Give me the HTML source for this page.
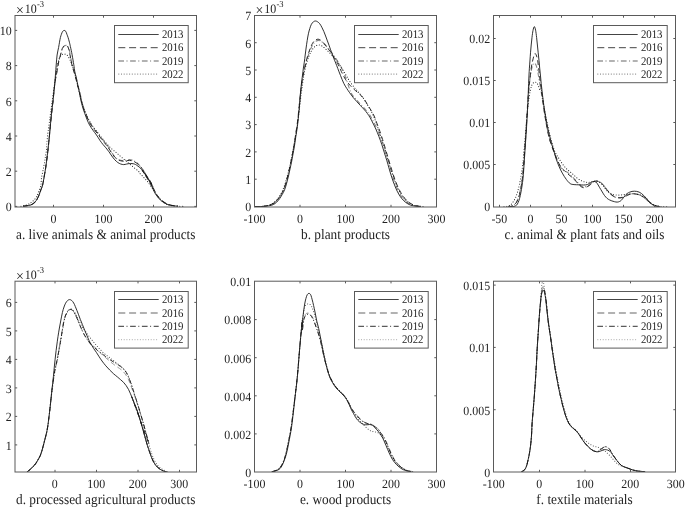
<!DOCTYPE html><html><head><meta charset="utf-8"><style>html,body{margin:0;padding:0;background:#fff}svg{display:block;will-change:transform}text{font-family:"Liberation Serif", serif;fill:#222;text-rendering:geometricPrecision}</style></head><body>
<svg width="685" height="507" viewBox="0 0 685 507">
<rect width="685" height="507" fill="#fff"/>
<clipPath id="cpa"><rect x="15.0" y="15.5" width="181.5" height="191.5"/></clipPath>
<g clip-path="url(#cpa)" fill="none">
<path d="M23.00,206.35 C23.47,206.28 24.53,206.12 25.80,205.90 C27.07,205.68 29.25,205.47 30.60,205.00 C31.95,204.53 32.92,203.90 33.90,203.10 C34.88,202.30 35.68,201.47 36.50,200.20 C37.32,198.93 38.08,197.20 38.80,195.50 C39.52,193.80 40.17,191.75 40.80,190.00 C41.43,188.25 42.02,187.33 42.60,185.00 C43.18,182.67 43.78,178.90 44.30,176.00 C44.82,173.10 45.25,170.60 45.70,167.60 C46.15,164.60 46.60,161.15 47.00,158.00 C47.40,154.85 47.70,152.37 48.10,148.70 C48.50,145.03 49.02,139.95 49.40,136.00 C49.78,132.05 50.07,128.50 50.40,125.00 C50.73,121.50 51.07,118.17 51.40,115.00 C51.73,111.83 52.10,108.57 52.40,106.00 C52.70,103.43 52.92,102.27 53.20,99.60 C53.48,96.93 53.73,93.27 54.10,90.00 C54.47,86.73 55.00,82.67 55.40,80.00 C55.80,77.33 56.13,76.00 56.50,74.00 C56.87,72.00 57.25,69.92 57.60,68.00 C57.95,66.08 58.10,64.63 58.60,62.50 C59.10,60.37 60.13,56.95 60.60,55.20 C61.07,53.45 61.12,53.03 61.40,52.00 C61.68,50.97 62.00,49.83 62.30,49.00 C62.60,48.17 62.82,47.55 63.20,47.00 C63.58,46.45 64.12,45.98 64.60,45.70 C65.08,45.42 65.62,45.27 66.10,45.30 C66.58,45.33 67.08,45.53 67.50,45.90 C67.92,46.27 68.28,46.78 68.60,47.50 C68.92,48.22 69.17,49.25 69.40,50.20 C69.63,51.15 69.78,52.12 70.00,53.20 C70.22,54.28 70.47,55.45 70.70,56.70 C70.93,57.95 71.15,59.40 71.40,60.70 C71.65,62.00 71.90,63.25 72.20,64.50 C72.50,65.75 72.87,67.03 73.20,68.20 C73.53,69.37 73.82,70.25 74.20,71.50 C74.58,72.75 75.05,74.08 75.50,75.70 C75.95,77.32 76.43,79.37 76.90,81.20 C77.37,83.03 77.78,84.73 78.30,86.70 C78.82,88.67 79.45,90.70 80.00,93.00 C80.55,95.30 81.00,98.08 81.60,100.50 C82.20,102.92 82.90,105.33 83.60,107.50 C84.30,109.67 85.03,111.58 85.80,113.50 C86.57,115.42 87.37,117.25 88.20,119.00 C89.03,120.75 89.80,122.37 90.80,124.00 C91.80,125.63 93.05,127.27 94.20,128.80 C95.35,130.33 96.53,131.67 97.70,133.20 C98.87,134.73 100.07,136.53 101.20,138.00 C102.33,139.47 103.37,140.58 104.50,142.00 C105.63,143.42 106.78,144.73 108.00,146.50 C109.22,148.27 110.67,150.88 111.80,152.60 C112.93,154.32 113.80,155.70 114.80,156.80 C115.80,157.90 116.82,158.62 117.80,159.20 C118.78,159.78 119.72,160.07 120.70,160.30 C121.68,160.53 122.72,160.65 123.70,160.60 C124.68,160.55 125.62,160.17 126.60,160.00 C127.58,159.83 128.70,159.60 129.60,159.60 C130.50,159.60 131.22,159.77 132.00,160.00 C132.78,160.23 133.50,160.53 134.30,161.00 C135.10,161.47 136.02,162.17 136.80,162.80 C137.58,163.43 138.30,164.07 139.00,164.80 C139.70,165.53 140.37,166.40 141.00,167.20 C141.63,168.00 142.13,168.63 142.80,169.60 C143.47,170.57 144.25,171.77 145.00,173.00 C145.75,174.23 146.45,175.58 147.30,177.00 C148.15,178.42 149.23,179.90 150.10,181.50 C150.97,183.10 153.75,188.38 152.50,186.60 C151.25,184.82 143.85,172.90 142.60,170.80 C141.35,168.70 144.22,172.92 145.00,174.00 C145.78,175.08 146.45,176.02 147.30,177.30 C148.15,178.58 149.23,180.12 150.10,181.70 C150.97,183.28 151.73,185.17 152.50,186.80 C153.27,188.43 153.95,190.07 154.70,191.50 C155.45,192.93 156.02,194.03 157.00,195.40 C157.98,196.77 159.35,198.50 160.60,199.70 C161.85,200.90 163.18,201.78 164.50,202.60 C165.82,203.42 167.00,204.08 168.50,204.60 C170.00,205.12 171.93,205.43 173.50,205.70 C175.07,205.97 177.17,206.12 177.90,206.20" stroke="#888" stroke-width="1.1" stroke-dasharray="4.5 2 1 2"/>
<path d="M21.00,206.35 C21.37,206.26 22.17,206.06 23.20,205.80 C24.23,205.54 26.03,205.23 27.20,204.80 C28.37,204.37 29.23,203.83 30.20,203.20 C31.17,202.57 32.02,201.95 33.00,201.00 C33.98,200.05 35.20,198.92 36.10,197.50 C37.00,196.08 37.62,194.50 38.40,192.50 C39.18,190.50 40.28,187.92 40.80,185.50 C41.32,183.08 41.08,180.75 41.50,178.00 C41.92,175.25 42.73,172.00 43.30,169.00 C43.87,166.00 44.38,163.17 44.90,160.00 C45.42,156.83 46.02,153.50 46.40,150.00 C46.78,146.50 46.83,142.67 47.20,139.00 C47.57,135.33 48.15,131.50 48.60,128.00 C49.05,124.50 49.48,121.17 49.90,118.00 C50.32,114.83 50.70,112.00 51.10,109.00 C51.50,106.00 51.92,102.83 52.30,100.00 C52.68,97.17 53.03,94.67 53.40,92.00 C53.77,89.33 54.13,86.67 54.50,84.00 C54.87,81.33 55.23,78.50 55.60,76.00 C55.97,73.50 56.33,71.08 56.70,69.00 C57.07,66.92 57.42,65.17 57.80,63.50 C58.18,61.83 58.58,60.20 59.00,59.00 C59.42,57.80 59.80,57.03 60.30,56.30 C60.80,55.57 61.37,54.98 62.00,54.60 C62.63,54.22 63.40,54.00 64.10,54.00 C64.80,54.00 65.53,54.22 66.20,54.60 C66.87,54.98 67.45,55.38 68.10,56.30 C68.75,57.22 69.48,58.73 70.10,60.10 C70.72,61.47 71.22,62.93 71.80,64.50 C72.38,66.07 73.00,67.58 73.60,69.50 C74.20,71.42 74.78,73.58 75.40,76.00 C76.02,78.42 76.67,81.33 77.30,84.00 C77.93,86.67 78.55,89.33 79.20,92.00 C79.85,94.67 80.50,97.47 81.20,100.00 C81.90,102.53 82.60,104.90 83.40,107.20 C84.20,109.50 85.07,111.67 86.00,113.80 C86.93,115.93 87.92,118.00 89.00,120.00 C90.08,122.00 91.25,123.97 92.50,125.80 C93.75,127.63 95.05,129.12 96.50,131.00 C97.95,132.88 99.92,135.47 101.20,137.10 C102.48,138.73 103.22,139.62 104.20,140.80 C105.18,141.98 105.92,142.92 107.10,144.20 C108.28,145.48 109.80,147.12 111.30,148.50 C112.80,149.88 114.62,151.23 116.10,152.50 C117.58,153.77 118.82,154.92 120.20,156.10 C121.58,157.28 123.10,158.50 124.40,159.60 C125.70,160.70 126.82,161.72 128.00,162.70 C129.18,163.68 130.32,164.53 131.50,165.50 C132.68,166.47 133.92,167.52 135.10,168.50 C136.28,169.48 137.92,170.72 138.60,171.40 C139.28,172.08 138.82,172.08 139.20,172.60 C139.58,173.12 140.32,173.88 140.90,174.50 C141.48,175.12 142.10,175.67 142.70,176.30 C143.30,176.93 143.90,177.65 144.50,178.30 C145.10,178.95 145.67,179.48 146.30,180.20 C146.93,180.92 147.60,181.68 148.30,182.60 C149.00,183.52 149.70,184.57 150.50,185.70 C151.30,186.83 152.27,188.15 153.10,189.40 C153.93,190.65 154.72,192.05 155.50,193.20 C156.28,194.35 156.97,195.23 157.80,196.30 C158.63,197.37 159.55,198.60 160.50,199.60 C161.45,200.60 162.42,201.50 163.50,202.30 C164.58,203.10 165.67,203.85 167.00,204.40 C168.33,204.95 169.72,205.31 171.50,205.60 C173.28,205.89 175.62,206.02 177.70,206.15 C179.78,206.28 182.95,206.36 184.00,206.40" stroke="#222" stroke-width="1.05" stroke-dasharray="0.1 2.6" stroke-linecap="round"/>
<path d="M23.00,206.35 C23.47,206.28 24.53,206.12 25.80,205.90 C27.07,205.68 29.25,205.47 30.60,205.00 C31.95,204.53 32.92,203.90 33.90,203.10 C34.88,202.30 35.68,201.47 36.50,200.20 C37.32,198.93 38.08,197.20 38.80,195.50 C39.52,193.80 40.17,191.75 40.80,190.00 C41.43,188.25 42.02,187.33 42.60,185.00 C43.18,182.67 43.78,178.90 44.30,176.00 C44.82,173.10 45.25,170.60 45.70,167.60 C46.15,164.60 46.60,161.15 47.00,158.00 C47.40,154.85 47.70,152.37 48.10,148.70 C48.50,145.03 49.02,139.95 49.40,136.00 C49.78,132.05 50.07,128.50 50.40,125.00 C50.73,121.50 51.07,118.17 51.40,115.00 C51.73,111.83 52.10,108.57 52.40,106.00 C52.70,103.43 52.92,102.27 53.20,99.60 C53.48,96.93 53.73,93.27 54.10,90.00 C54.47,86.73 55.00,82.67 55.40,80.00 C55.80,77.33 56.13,76.00 56.50,74.00 C56.87,72.00 57.25,70.00 57.60,68.00 C57.95,66.00 58.15,64.08 58.60,62.00 C59.05,59.92 59.88,57.12 60.30,55.50 C60.72,53.88 60.82,53.33 61.10,52.30 C61.38,51.27 61.70,50.13 62.00,49.30 C62.30,48.47 62.52,47.85 62.90,47.30 C63.28,46.75 63.82,46.28 64.30,46.00 C64.78,45.72 65.32,45.57 65.80,45.60 C66.28,45.63 66.78,45.83 67.20,46.20 C67.62,46.57 67.98,47.08 68.30,47.80 C68.62,48.52 68.87,49.55 69.10,50.50 C69.33,51.45 69.48,52.42 69.70,53.50 C69.92,54.58 70.17,55.75 70.40,57.00 C70.63,58.25 70.85,59.70 71.10,61.00 C71.35,62.30 71.60,63.55 71.90,64.80 C72.20,66.05 72.57,67.33 72.90,68.50 C73.23,69.67 73.52,70.55 73.90,71.80 C74.28,73.05 74.75,74.38 75.20,76.00 C75.65,77.62 76.13,79.67 76.60,81.50 C77.07,83.33 77.47,85.08 78.00,87.00 C78.53,88.92 79.23,90.75 79.80,93.00 C80.37,95.25 80.80,98.00 81.40,100.50 C82.00,103.00 82.70,105.75 83.40,108.00 C84.10,110.25 84.83,112.08 85.60,114.00 C86.37,115.92 87.17,117.75 88.00,119.50 C88.83,121.25 89.60,122.87 90.60,124.50 C91.60,126.13 92.85,127.77 94.00,129.30 C95.15,130.83 96.33,132.17 97.50,133.70 C98.67,135.23 99.87,137.03 101.00,138.50 C102.13,139.97 103.17,141.08 104.30,142.50 C105.43,143.92 106.55,145.22 107.80,147.00 C109.05,148.78 110.63,151.50 111.80,153.20 C112.97,154.90 113.80,156.13 114.80,157.20 C115.80,158.27 116.82,159.00 117.80,159.60 C118.78,160.20 119.72,160.53 120.70,160.80 C121.68,161.07 122.72,161.22 123.70,161.20 C124.68,161.18 125.62,160.83 126.60,160.70 C127.58,160.57 128.70,160.38 129.60,160.40 C130.50,160.42 131.22,160.58 132.00,160.80 C132.78,161.02 133.50,161.30 134.30,161.70 C135.10,162.10 136.02,162.65 136.80,163.20 C137.58,163.75 138.30,164.33 139.00,165.00 C139.70,165.67 140.37,166.43 141.00,167.20 C141.63,167.97 142.13,168.63 142.80,169.60 C143.47,170.57 144.25,171.77 145.00,173.00 C145.75,174.23 146.40,175.58 147.30,177.00 C148.20,178.42 149.48,179.90 150.40,181.50 C151.32,183.10 154.10,188.38 152.80,186.60 C151.50,184.82 143.90,172.90 142.60,170.80 C141.30,168.70 144.22,172.92 145.00,174.00 C145.78,175.08 146.40,176.02 147.30,177.30 C148.20,178.58 149.48,180.12 150.40,181.70 C151.32,183.28 152.03,185.17 152.80,186.80 C153.57,188.43 154.25,190.07 155.00,191.50 C155.75,192.93 156.32,194.03 157.30,195.40 C158.28,196.77 159.65,198.50 160.90,199.70 C162.15,200.90 163.48,201.78 164.80,202.60 C166.12,203.42 167.30,204.08 168.80,204.60 C170.30,205.12 172.28,205.43 173.80,205.70 C175.32,205.97 177.22,206.12 177.90,206.20" stroke="#1a1a1a" stroke-width="0.9" stroke-dasharray="5 3"/>
<path d="M23.00,206.35 C23.47,206.28 24.53,206.12 25.80,205.90 C27.07,205.68 29.25,205.47 30.60,205.00 C31.95,204.53 32.92,203.90 33.90,203.10 C34.88,202.30 35.68,201.47 36.50,200.20 C37.32,198.93 38.08,197.20 38.80,195.50 C39.52,193.80 40.17,191.75 40.80,190.00 C41.43,188.25 42.02,187.33 42.60,185.00 C43.18,182.67 43.78,178.90 44.30,176.00 C44.82,173.10 45.25,170.60 45.70,167.60 C46.15,164.60 46.60,161.15 47.00,158.00 C47.40,154.85 47.70,152.37 48.10,148.70 C48.50,145.03 49.02,139.95 49.40,136.00 C49.78,132.05 50.07,128.50 50.40,125.00 C50.73,121.50 51.07,118.17 51.40,115.00 C51.73,111.83 52.10,108.57 52.40,106.00 C52.70,103.43 52.92,102.27 53.20,99.60 C53.48,96.93 53.82,92.97 54.10,90.00 C54.38,87.03 54.67,84.47 54.90,81.80 C55.13,79.13 55.28,76.80 55.50,74.00 C55.72,71.20 55.93,68.17 56.20,65.00 C56.47,61.83 56.70,57.92 57.10,55.00 C57.50,52.08 58.20,49.63 58.60,47.50 C59.00,45.37 59.20,43.87 59.50,42.20 C59.80,40.53 60.08,38.82 60.40,37.50 C60.72,36.18 61.03,35.30 61.40,34.30 C61.77,33.30 62.13,32.15 62.60,31.50 C63.07,30.85 63.67,30.42 64.20,30.40 C64.73,30.38 65.35,30.75 65.80,31.40 C66.25,32.05 66.52,33.28 66.90,34.30 C67.28,35.32 67.68,36.18 68.10,37.50 C68.52,38.82 69.02,40.70 69.40,42.20 C69.78,43.70 69.95,44.40 70.40,46.50 C70.85,48.60 71.53,51.75 72.10,54.80 C72.67,57.85 73.35,62.00 73.80,64.80 C74.25,67.60 74.38,69.48 74.80,71.60 C75.22,73.72 75.87,75.60 76.30,77.50 C76.73,79.40 76.90,80.58 77.40,83.00 C77.90,85.42 78.75,89.27 79.30,92.00 C79.85,94.73 80.15,96.90 80.70,99.40 C81.25,101.90 81.93,104.68 82.60,107.00 C83.27,109.32 83.97,111.22 84.70,113.30 C85.43,115.38 86.18,117.53 87.00,119.50 C87.82,121.47 88.60,123.30 89.60,125.10 C90.60,126.90 91.85,128.65 93.00,130.30 C94.15,131.95 95.33,133.30 96.50,135.00 C97.67,136.70 98.92,138.92 100.00,140.50 C101.08,142.08 102.02,143.28 103.00,144.50 C103.98,145.72 104.90,146.58 105.90,147.80 C106.90,149.02 108.02,150.43 109.00,151.80 C109.98,153.17 110.83,154.67 111.80,156.00 C112.77,157.33 113.80,158.72 114.80,159.80 C115.80,160.88 116.82,161.80 117.80,162.50 C118.78,163.20 119.72,163.65 120.70,164.00 C121.68,164.35 122.75,164.58 123.70,164.60 C124.65,164.62 125.62,164.25 126.40,164.10 C127.18,163.95 127.67,163.80 128.40,163.70 C129.13,163.60 130.02,163.50 130.80,163.50 C131.58,163.50 132.32,163.53 133.10,163.70 C133.88,163.87 134.70,164.10 135.50,164.50 C136.30,164.90 137.10,165.52 137.90,166.10 C138.70,166.68 139.52,167.22 140.30,168.00 C141.08,168.78 141.82,169.80 142.60,170.80 C143.38,171.80 144.22,172.92 145.00,174.00 C145.78,175.08 146.53,176.02 147.30,177.30 C148.07,178.58 148.82,180.12 149.60,181.70 C150.38,183.28 151.23,185.17 152.00,186.80 C152.77,188.43 153.45,190.07 154.20,191.50 C154.95,192.93 155.52,194.03 156.50,195.40 C157.48,196.77 158.85,198.50 160.10,199.70 C161.35,200.90 162.68,201.78 164.00,202.60 C165.32,203.42 166.50,204.08 168.00,204.60 C169.50,205.12 171.35,205.43 173.00,205.70 C174.65,205.97 177.08,206.12 177.90,206.20" stroke="#1a1a1a" stroke-width="0.9"/>
</g>
<rect x="15.0" y="15.5" width="181.5" height="191.5" fill="none" stroke="#5a5a5a" stroke-width="1"/>
<path d="M53.5,207.0v-2.2M53.5,15.5v2.2M103.5,207.0v-2.2M103.5,15.5v2.2M153.5,207.0v-2.2M153.5,15.5v2.2M15.0,206.4h2.2M196.5,206.4h-2.2M15.0,171.2h2.2M196.5,171.2h-2.2M15.0,136.0h2.2M196.5,136.0h-2.2M15.0,100.8h2.2M196.5,100.8h-2.2M15.0,65.6h2.2M196.5,65.6h-2.2M15.0,30.4h2.2M196.5,30.4h-2.2" stroke="#5a5a5a" stroke-width="1" fill="none"/>
<text transform="translate(53.50,222.50) scale(1,1.055)" font-size="11.95" text-anchor="middle">0</text>
<text transform="translate(103.50,222.50) scale(1,1.055)" font-size="11.95" text-anchor="middle">100</text>
<text transform="translate(153.50,222.50) scale(1,1.055)" font-size="11.95" text-anchor="middle">200</text>
<text transform="translate(11.60,211.20) scale(1,1.055)" font-size="11.95" text-anchor="end">0</text>
<text transform="translate(11.60,176.00) scale(1,1.055)" font-size="11.95" text-anchor="end">2</text>
<text transform="translate(11.60,140.80) scale(1,1.055)" font-size="11.95" text-anchor="end">4</text>
<text transform="translate(11.60,105.60) scale(1,1.055)" font-size="11.95" text-anchor="end">6</text>
<text transform="translate(11.60,70.40) scale(1,1.055)" font-size="11.95" text-anchor="end">8</text>
<text transform="translate(11.60,35.20) scale(1,1.055)" font-size="11.95" text-anchor="end">10</text>
<text transform="translate(16.00,14.85) scale(1,1.08)" font-size="14">&#215;</text>
<text transform="translate(24.80,13.10) scale(1,1.08)" font-size="11.95">10</text>
<text transform="translate(37.00,6.90) scale(1,1.08)" font-size="8.5">-3</text>
<text transform="translate(105.75,238.60) scale(1,1.08)" font-size="13.3" text-anchor="middle">a. live animals & animal products</text>
<rect x="114.5" y="25.5" width="73.7" height="57.2" fill="#fff" stroke="#5a5a5a" stroke-width="1"/>
<path d="M118.3,34.5H158.7" stroke="#444" stroke-width="1.0"/>
<text transform="translate(161.90,38.20) scale(1,1.08)" font-size="10.8">2013</text>
<path d="M118.3,47.7H158.7" stroke="#444" stroke-width="1.0" stroke-dasharray="7 3.8"/>
<text transform="translate(161.90,51.40) scale(1,1.08)" font-size="10.8">2016</text>
<path d="M118.3,60.9H158.7" stroke="#999" stroke-width="1.5" stroke-dasharray="5.7 2.5 1 2.6"/>
<text transform="translate(161.90,64.60) scale(1,1.08)" font-size="10.8">2019</text>
<path d="M118.3,74.1H158.7" stroke="#777" stroke-width="1.0" stroke-dasharray="1 1.7"/>
<text transform="translate(161.90,77.80) scale(1,1.08)" font-size="10.8">2022</text>
<clipPath id="cpb"><rect x="254.5" y="15.5" width="182.0" height="191.5"/></clipPath>
<g clip-path="url(#cpb)" fill="none">
<path d="M254.00,206.60 C255.17,206.58 259.17,206.58 261.00,206.50 C262.83,206.42 263.67,206.32 265.00,206.10 C266.33,205.88 267.70,205.58 269.00,205.20 C270.30,204.82 271.63,204.43 272.80,203.80 C273.97,203.17 274.97,202.40 276.00,201.40 C277.03,200.40 278.05,199.12 279.00,197.80 C279.95,196.48 280.85,195.05 281.70,193.50 C282.55,191.95 283.35,190.42 284.10,188.50 C284.85,186.58 285.55,184.25 286.20,182.00 C286.85,179.75 287.43,177.33 288.00,175.00 C288.57,172.67 289.08,170.33 289.60,168.00 C290.12,165.67 290.60,163.50 291.10,161.00 C291.60,158.50 292.12,155.60 292.60,153.00 C293.08,150.40 293.52,148.32 294.00,145.40 C294.48,142.48 295.00,138.73 295.50,135.50 C296.00,132.27 296.57,129.08 297.00,126.00 C297.43,122.92 297.75,120.17 298.10,117.00 C298.45,113.83 298.75,110.50 299.10,107.00 C299.45,103.50 299.82,99.50 300.20,96.00 C300.58,92.50 301.00,89.00 301.40,86.00 C301.80,83.00 302.20,80.33 302.60,78.00 C303.00,75.67 303.40,73.83 303.80,72.00 C304.20,70.17 304.58,68.67 305.00,67.00 C305.42,65.33 305.87,63.58 306.30,62.00 C306.73,60.42 307.15,58.97 307.60,57.50 C308.05,56.03 308.50,54.58 309.00,53.20 C309.50,51.82 310.05,50.47 310.60,49.20 C311.15,47.93 311.70,46.67 312.30,45.60 C312.90,44.53 313.53,43.57 314.20,42.80 C314.87,42.03 315.58,41.40 316.30,41.00 C317.02,40.60 317.80,40.42 318.50,40.40 C319.20,40.38 319.87,40.62 320.50,40.90 C321.13,41.18 321.67,41.58 322.30,42.10 C322.93,42.62 323.62,43.30 324.30,44.00 C324.98,44.70 325.65,45.43 326.40,46.30 C327.15,47.17 328.00,48.25 328.80,49.20 C329.60,50.15 330.40,51.00 331.20,52.00 C332.00,53.00 332.73,54.00 333.60,55.20 C334.47,56.40 335.47,57.77 336.40,59.20 C337.33,60.63 338.23,62.10 339.20,63.80 C340.17,65.50 341.18,67.23 342.20,69.40 C343.22,71.57 343.83,72.90 345.30,76.80 C346.77,80.70 349.47,89.35 351.00,92.80 C352.53,96.25 353.32,96.03 354.50,97.50 C355.68,98.97 356.88,100.25 358.10,101.60 C359.32,102.95 360.50,104.20 361.80,105.60 C363.10,107.00 364.75,108.68 365.90,110.00 C367.05,111.32 367.80,112.25 368.70,113.50 C369.60,114.75 370.38,115.92 371.30,117.50 C372.22,119.08 373.22,121.05 374.20,123.00 C375.18,124.95 376.20,126.95 377.20,129.20 C378.20,131.45 379.20,133.90 380.20,136.50 C381.20,139.10 382.28,142.08 383.20,144.80 C384.12,147.52 384.87,150.13 385.70,152.80 C386.53,155.47 387.45,158.30 388.20,160.80 C388.95,163.30 389.53,165.48 390.20,167.80 C390.87,170.12 391.47,172.37 392.20,174.70 C392.93,177.03 393.78,179.55 394.60,181.80 C395.42,184.05 396.20,186.17 397.10,188.20 C398.00,190.23 399.05,192.27 400.00,194.00 C400.95,195.73 401.70,197.22 402.80,198.60 C403.90,199.98 405.27,201.27 406.60,202.30 C407.93,203.33 409.32,204.18 410.80,204.80 C412.28,205.42 413.85,205.72 415.50,206.00 C417.15,206.28 419.83,206.42 420.70,206.50" stroke="#888" stroke-width="1.1" stroke-dasharray="4.5 2 1 2"/>
<path d="M254.00,206.60 C255.33,206.57 260.00,206.53 262.00,206.40 C264.00,206.27 264.67,206.08 266.00,205.80 C267.33,205.52 268.75,205.20 270.00,204.70 C271.25,204.20 272.33,203.65 273.50,202.80 C274.67,201.95 275.92,200.83 277.00,199.60 C278.08,198.37 279.07,196.92 280.00,195.40 C280.93,193.88 281.77,192.40 282.60,190.50 C283.43,188.60 284.27,186.25 285.00,184.00 C285.73,181.75 286.33,179.42 287.00,177.00 C287.67,174.58 288.37,172.08 289.00,169.50 C289.63,166.92 290.20,164.25 290.80,161.50 C291.40,158.75 292.02,155.92 292.60,153.00 C293.18,150.08 293.73,147.17 294.30,144.00 C294.87,140.83 295.47,137.33 296.00,134.00 C296.53,130.67 297.03,127.33 297.50,124.00 C297.97,120.67 298.38,117.33 298.80,114.00 C299.22,110.67 299.60,107.33 300.00,104.00 C300.40,100.67 300.80,97.17 301.20,94.00 C301.60,90.83 302.00,87.83 302.40,85.00 C302.80,82.17 303.17,79.58 303.60,77.00 C304.03,74.42 304.47,71.92 305.00,69.50 C305.53,67.08 306.13,64.75 306.80,62.50 C307.47,60.25 308.23,57.92 309.00,56.00 C309.77,54.08 310.60,52.40 311.40,51.00 C312.20,49.60 313.02,48.48 313.80,47.60 C314.58,46.72 315.32,46.13 316.10,45.70 C316.88,45.27 317.68,45.03 318.50,45.00 C319.32,44.97 320.20,45.18 321.00,45.50 C321.80,45.82 322.43,46.23 323.30,46.90 C324.17,47.57 325.22,48.58 326.20,49.50 C327.18,50.42 328.30,51.52 329.20,52.40 C330.10,53.28 330.82,54.02 331.60,54.80 C332.38,55.58 333.08,56.20 333.90,57.10 C334.72,58.00 335.65,59.08 336.50,60.20 C337.35,61.32 338.08,62.42 339.00,63.80 C339.92,65.18 341.02,66.93 342.00,68.50 C342.98,70.07 344.02,71.72 344.90,73.20 C345.78,74.68 346.50,76.05 347.30,77.40 C348.10,78.75 348.60,79.70 349.70,81.30 C350.80,82.90 352.58,85.35 353.90,87.00 C355.22,88.65 356.33,89.73 357.60,91.20 C358.87,92.67 360.27,94.20 361.50,95.80 C362.73,97.40 363.83,99.00 365.00,100.80 C366.17,102.60 367.28,104.50 368.50,106.60 C369.72,108.70 371.13,111.03 372.30,113.40 C373.47,115.77 374.48,118.20 375.50,120.80 C376.52,123.40 377.45,126.22 378.40,129.00 C379.35,131.78 380.28,134.67 381.20,137.50 C382.12,140.33 383.02,143.17 383.90,146.00 C384.78,148.83 385.65,151.67 386.50,154.50 C387.35,157.33 388.17,160.25 389.00,163.00 C389.83,165.75 390.65,168.37 391.50,171.00 C392.35,173.63 393.20,176.30 394.10,178.80 C395.00,181.30 395.90,183.73 396.90,186.00 C397.90,188.27 398.97,190.43 400.10,192.40 C401.23,194.37 402.43,196.22 403.70,197.80 C404.97,199.38 406.28,200.77 407.70,201.90 C409.12,203.03 410.62,203.92 412.20,204.60 C413.78,205.28 415.40,205.67 417.20,206.00 C419.00,206.33 422.03,206.50 423.00,206.60" stroke="#222" stroke-width="1.05" stroke-dasharray="0.1 2.6" stroke-linecap="round"/>
<path d="M254.00,206.60 C255.17,206.58 259.17,206.58 261.00,206.50 C262.83,206.42 263.67,206.32 265.00,206.10 C266.33,205.88 267.70,205.58 269.00,205.20 C270.30,204.82 271.63,204.43 272.80,203.80 C273.97,203.17 274.97,202.40 276.00,201.40 C277.03,200.40 278.05,199.12 279.00,197.80 C279.95,196.48 280.85,195.05 281.70,193.50 C282.55,191.95 283.35,190.42 284.10,188.50 C284.85,186.58 285.55,184.25 286.20,182.00 C286.85,179.75 287.43,177.33 288.00,175.00 C288.57,172.67 289.08,170.33 289.60,168.00 C290.12,165.67 290.60,163.50 291.10,161.00 C291.60,158.50 292.12,155.60 292.60,153.00 C293.08,150.40 293.52,148.32 294.00,145.40 C294.48,142.48 295.00,138.73 295.50,135.50 C296.00,132.27 296.57,129.08 297.00,126.00 C297.43,122.92 297.75,120.17 298.10,117.00 C298.45,113.83 298.75,110.50 299.10,107.00 C299.45,103.50 299.82,99.50 300.20,96.00 C300.58,92.50 301.00,89.00 301.40,86.00 C301.80,83.00 302.20,80.33 302.60,78.00 C303.00,75.67 303.42,73.92 303.80,72.00 C304.18,70.08 304.52,68.25 304.90,66.50 C305.28,64.75 305.70,63.08 306.10,61.50 C306.50,59.92 306.87,58.50 307.30,57.00 C307.73,55.50 308.22,53.93 308.70,52.50 C309.18,51.07 309.70,49.67 310.20,48.40 C310.70,47.13 311.17,45.97 311.70,44.90 C312.23,43.83 312.77,42.82 313.40,42.00 C314.03,41.18 314.75,40.47 315.50,40.00 C316.25,39.53 317.18,39.25 317.90,39.20 C318.62,39.15 319.20,39.42 319.80,39.70 C320.40,39.98 320.88,40.35 321.50,40.90 C322.12,41.45 322.82,42.25 323.50,43.00 C324.18,43.75 324.85,44.48 325.60,45.40 C326.35,46.32 327.20,47.47 328.00,48.50 C328.80,49.53 329.70,50.62 330.40,51.60 C331.10,52.58 331.60,53.43 332.20,54.40 C332.80,55.37 333.28,56.22 334.00,57.40 C334.72,58.58 335.68,60.07 336.50,61.50 C337.32,62.93 338.08,64.32 338.90,66.00 C339.72,67.68 340.30,69.35 341.40,71.60 C342.50,73.85 343.98,77.13 345.50,79.50 C347.02,81.87 348.78,83.90 350.50,85.80 C352.22,87.70 354.08,89.33 355.80,90.90 C357.52,92.47 359.32,93.68 360.80,95.20 C362.28,96.72 363.38,98.08 364.70,100.00 C366.02,101.92 367.60,104.93 368.70,106.70 C369.80,108.47 370.48,109.25 371.30,110.60 C372.12,111.95 372.95,113.48 373.60,114.80 C374.25,116.12 374.70,117.22 375.20,118.50 C375.70,119.78 376.08,121.08 376.60,122.50 C377.12,123.92 377.73,125.48 378.30,127.00 C378.87,128.52 379.28,129.52 380.00,131.60 C380.72,133.68 381.73,136.77 382.60,139.50 C383.47,142.23 384.35,145.17 385.20,148.00 C386.05,150.83 386.87,153.70 387.70,156.50 C388.53,159.30 389.38,162.12 390.20,164.80 C391.02,167.48 391.77,170.03 392.60,172.60 C393.43,175.17 394.30,177.77 395.20,180.20 C396.10,182.63 397.00,185.03 398.00,187.20 C399.00,189.37 400.07,191.33 401.20,193.20 C402.33,195.07 403.53,196.90 404.80,198.40 C406.07,199.90 407.40,201.13 408.80,202.20 C410.20,203.27 411.67,204.15 413.20,204.80 C414.73,205.45 416.37,205.80 418.00,206.10 C419.63,206.40 422.17,206.52 423.00,206.60" stroke="#1a1a1a" stroke-width="0.9" stroke-dasharray="5 3"/>
<path d="M254.00,206.60 C255.33,206.58 260.03,206.55 262.00,206.50 C263.97,206.45 264.47,206.45 265.80,206.30 C267.13,206.15 268.68,205.92 270.00,205.60 C271.32,205.28 272.57,205.00 273.70,204.40 C274.83,203.80 275.82,202.95 276.80,202.00 C277.78,201.05 278.70,199.95 279.60,198.70 C280.50,197.45 281.37,195.98 282.20,194.50 C283.03,193.02 283.85,191.72 284.60,189.80 C285.35,187.88 286.05,185.30 286.70,183.00 C287.35,180.70 287.95,178.33 288.50,176.00 C289.05,173.67 289.50,171.30 290.00,169.00 C290.50,166.70 291.00,164.70 291.50,162.20 C292.00,159.70 292.52,156.63 293.00,154.00 C293.48,151.37 293.92,149.40 294.40,146.40 C294.88,143.40 295.40,139.28 295.90,136.00 C296.40,132.72 296.98,129.87 297.40,126.70 C297.82,123.53 298.07,120.28 298.40,117.00 C298.73,113.72 299.07,110.83 299.40,107.00 C299.73,103.17 300.07,97.83 300.40,94.00 C300.73,90.17 301.05,87.13 301.40,84.00 C301.75,80.87 302.17,77.87 302.50,75.20 C302.83,72.53 303.10,70.17 303.40,68.00 C303.70,65.83 304.00,64.37 304.30,62.20 C304.60,60.03 304.90,57.37 305.20,55.00 C305.50,52.63 305.77,50.42 306.10,48.00 C306.43,45.58 306.82,42.87 307.20,40.50 C307.58,38.13 307.97,35.80 308.40,33.80 C308.83,31.80 309.30,30.08 309.80,28.50 C310.30,26.92 310.80,25.42 311.40,24.30 C312.00,23.18 312.72,22.35 313.40,21.80 C314.08,21.25 314.80,21.00 315.50,21.00 C316.20,21.00 316.90,21.35 317.60,21.80 C318.30,22.25 319.00,22.80 319.70,23.70 C320.40,24.60 321.12,25.92 321.80,27.20 C322.48,28.48 323.17,29.93 323.80,31.40 C324.43,32.87 325.00,34.42 325.60,36.00 C326.20,37.58 326.83,39.37 327.40,40.90 C327.97,42.43 328.50,43.82 329.00,45.20 C329.50,46.58 329.87,47.73 330.40,49.20 C330.93,50.67 331.62,52.42 332.20,54.00 C332.78,55.58 333.32,57.20 333.90,58.70 C334.48,60.20 335.05,61.37 335.70,63.00 C336.35,64.63 337.00,66.42 337.80,68.50 C338.60,70.58 339.50,73.02 340.50,75.50 C341.50,77.98 342.75,81.23 343.80,83.40 C344.85,85.57 345.82,86.93 346.80,88.50 C347.78,90.07 348.63,91.30 349.70,92.80 C350.77,94.30 352.02,96.03 353.20,97.50 C354.38,98.97 355.58,100.25 356.80,101.60 C358.02,102.95 359.20,104.20 360.50,105.60 C361.80,107.00 363.45,108.68 364.60,110.00 C365.75,111.32 366.50,112.25 367.40,113.50 C368.30,114.75 369.08,115.92 370.00,117.50 C370.92,119.08 371.92,121.05 372.90,123.00 C373.88,124.95 374.90,126.95 375.90,129.20 C376.90,131.45 377.90,133.90 378.90,136.50 C379.90,139.10 380.98,142.08 381.90,144.80 C382.82,147.52 383.57,150.13 384.40,152.80 C385.23,155.47 386.15,158.30 386.90,160.80 C387.65,163.30 388.23,165.48 388.90,167.80 C389.57,170.12 390.17,172.37 390.90,174.70 C391.63,177.03 392.48,179.55 393.30,181.80 C394.12,184.05 394.90,186.17 395.80,188.20 C396.70,190.23 397.70,192.27 398.70,194.00 C399.70,195.73 400.65,197.22 401.80,198.60 C402.95,199.98 404.27,201.27 405.60,202.30 C406.93,203.33 408.32,204.18 409.80,204.80 C411.28,205.42 412.85,205.72 414.50,206.00 C416.15,206.28 418.83,206.42 419.70,206.50" stroke="#1a1a1a" stroke-width="0.9"/>
</g>
<rect x="254.5" y="15.5" width="182.0" height="191.5" fill="none" stroke="#5a5a5a" stroke-width="1"/>
<path d="M300.0,207.0v-2.2M300.0,15.5v2.2M345.5,207.0v-2.2M345.5,15.5v2.2M391.0,207.0v-2.2M391.0,15.5v2.2M254.5,179.2h2.2M436.5,179.2h-2.2M254.5,151.9h2.2M436.5,151.9h-2.2M254.5,124.6h2.2M436.5,124.6h-2.2M254.5,97.3h2.2M436.5,97.3h-2.2M254.5,70.0h2.2M436.5,70.0h-2.2M254.5,42.7h2.2M436.5,42.7h-2.2" stroke="#5a5a5a" stroke-width="1" fill="none"/>
<text transform="translate(254.50,222.50) scale(1,1.055)" font-size="11.95" text-anchor="middle">-100</text>
<text transform="translate(300.00,222.50) scale(1,1.055)" font-size="11.95" text-anchor="middle">0</text>
<text transform="translate(345.50,222.50) scale(1,1.055)" font-size="11.95" text-anchor="middle">100</text>
<text transform="translate(391.00,222.50) scale(1,1.055)" font-size="11.95" text-anchor="middle">200</text>
<text transform="translate(436.50,222.50) scale(1,1.055)" font-size="11.95" text-anchor="middle">300</text>
<text transform="translate(251.10,211.30) scale(1,1.055)" font-size="11.95" text-anchor="end">0</text>
<text transform="translate(251.10,184.00) scale(1,1.055)" font-size="11.95" text-anchor="end">1</text>
<text transform="translate(251.10,156.70) scale(1,1.055)" font-size="11.95" text-anchor="end">2</text>
<text transform="translate(251.10,129.40) scale(1,1.055)" font-size="11.95" text-anchor="end">3</text>
<text transform="translate(251.10,102.10) scale(1,1.055)" font-size="11.95" text-anchor="end">4</text>
<text transform="translate(251.10,74.80) scale(1,1.055)" font-size="11.95" text-anchor="end">5</text>
<text transform="translate(251.10,47.50) scale(1,1.055)" font-size="11.95" text-anchor="end">6</text>
<text transform="translate(251.10,20.20) scale(1,1.055)" font-size="11.95" text-anchor="end">7</text>
<text transform="translate(255.50,14.85) scale(1,1.08)" font-size="14">&#215;</text>
<text transform="translate(264.30,13.10) scale(1,1.08)" font-size="11.95">10</text>
<text transform="translate(276.50,6.90) scale(1,1.08)" font-size="8.5">-3</text>
<text transform="translate(345.50,238.60) scale(1,1.08)" font-size="13.3" text-anchor="middle">b. plant products</text>
<rect x="354.5" y="25.5" width="73.7" height="57.2" fill="#fff" stroke="#5a5a5a" stroke-width="1"/>
<path d="M358.3,34.5H398.7" stroke="#444" stroke-width="1.0"/>
<text transform="translate(401.90,38.20) scale(1,1.08)" font-size="10.8">2013</text>
<path d="M358.3,47.7H398.7" stroke="#444" stroke-width="1.0" stroke-dasharray="7 3.8"/>
<text transform="translate(401.90,51.40) scale(1,1.08)" font-size="10.8">2016</text>
<path d="M358.3,60.9H398.7" stroke="#999" stroke-width="1.5" stroke-dasharray="5.7 2.5 1 2.6"/>
<text transform="translate(401.90,64.60) scale(1,1.08)" font-size="10.8">2019</text>
<path d="M358.3,74.1H398.7" stroke="#777" stroke-width="1.0" stroke-dasharray="1 1.7"/>
<text transform="translate(401.90,77.80) scale(1,1.08)" font-size="10.8">2022</text>
<clipPath id="cpc"><rect x="493.5" y="15.5" width="182.0" height="191.5"/></clipPath>
<g clip-path="url(#cpc)" fill="none">
<path d="M508.00,206.90 C508.58,206.78 510.45,206.58 511.50,206.20 C512.55,205.82 513.45,205.33 514.30,204.60 C515.15,203.87 515.92,202.97 516.60,201.80 C517.28,200.63 517.85,199.23 518.40,197.60 C518.95,195.97 519.43,194.10 519.90,192.00 C520.37,189.90 520.80,187.42 521.20,185.00 C521.60,182.58 521.97,180.17 522.30,177.50 C522.63,174.83 522.93,171.92 523.20,169.00 C523.47,166.08 523.67,163.17 523.90,160.00 C524.13,156.83 524.37,153.33 524.60,150.00 C524.83,146.67 525.05,143.67 525.30,140.00 C525.55,136.33 525.83,132.17 526.10,128.00 C526.37,123.83 526.65,119.00 526.90,115.00 C527.15,111.00 527.37,107.50 527.60,104.00 C527.83,100.50 528.03,97.17 528.30,94.00 C528.57,90.83 528.88,87.83 529.20,85.00 C529.52,82.17 529.85,79.42 530.20,77.00 C530.55,74.58 530.93,72.33 531.30,70.50 C531.67,68.67 532.02,67.15 532.40,66.00 C532.78,64.85 533.20,64.05 533.60,63.60 C534.00,63.15 534.40,63.07 534.80,63.30 C535.20,63.53 535.62,64.12 536.00,65.00 C536.38,65.88 536.77,67.27 537.10,68.60 C537.43,69.93 537.68,71.27 538.00,73.00 C538.32,74.73 538.65,76.92 539.00,79.00 C539.35,81.08 539.73,83.33 540.10,85.50 C540.47,87.67 540.83,89.83 541.20,92.00 C541.57,94.17 541.93,96.33 542.30,98.50 C542.67,100.67 543.03,102.67 543.40,105.00 C543.77,107.33 544.10,109.92 544.50,112.50 C544.90,115.08 545.30,117.58 545.80,120.50 C546.30,123.42 546.88,126.95 547.50,130.00 C548.12,133.05 548.77,136.13 549.50,138.80 C550.23,141.47 551.10,143.70 551.90,146.00 C552.70,148.30 553.52,150.52 554.30,152.60 C555.08,154.68 555.85,156.67 556.60,158.50 C557.35,160.33 558.13,162.15 558.80,163.60 C559.47,165.05 560.00,166.20 560.60,167.20 C561.20,168.20 561.78,168.93 562.40,169.60 C563.02,170.27 563.77,170.90 564.30,171.20 C564.83,171.50 565.02,171.17 565.60,171.40 C566.18,171.63 566.77,171.78 567.80,172.60 C568.83,173.42 570.48,175.02 571.80,176.30 C573.12,177.58 574.38,178.92 575.70,180.30 C577.02,181.68 578.52,183.52 579.70,184.60 C580.88,185.68 581.75,186.47 582.80,186.80 C583.85,187.13 584.95,186.87 586.00,186.60 C587.05,186.33 588.05,185.87 589.10,185.20 C590.15,184.53 591.38,183.25 592.30,182.60 C593.22,181.95 593.68,181.53 594.60,181.30 C595.52,181.07 596.87,181.02 597.80,181.20 C598.73,181.38 599.43,181.90 600.20,182.40 C600.97,182.90 601.65,183.45 602.40,184.20 C603.15,184.95 603.93,185.93 604.70,186.90 C605.47,187.87 606.20,189.02 607.00,190.00 C607.80,190.98 608.70,191.97 609.50,192.80 C610.30,193.63 611.02,194.37 611.80,195.00 C612.58,195.63 613.33,196.20 614.20,196.60 C615.07,197.00 616.02,197.23 617.00,197.40 C617.98,197.57 619.18,197.65 620.10,197.60 C621.02,197.55 621.70,197.32 622.50,197.10 C623.30,196.88 624.12,196.63 624.90,196.30 C625.68,195.97 626.42,195.45 627.20,195.10 C627.98,194.75 628.80,194.43 629.60,194.20 C630.40,193.97 631.22,193.80 632.00,193.70 C632.78,193.60 633.52,193.55 634.30,193.60 C635.08,193.65 635.90,193.80 636.70,194.00 C637.50,194.20 638.30,194.48 639.10,194.80 C639.90,195.12 640.72,195.48 641.50,195.90 C642.28,196.32 643.02,196.73 643.80,197.30 C644.58,197.87 645.42,198.60 646.20,199.30 C646.98,200.00 647.70,200.78 648.50,201.50 C649.30,202.22 650.20,203.02 651.00,203.60 C651.80,204.18 652.47,204.60 653.30,205.00 C654.13,205.40 654.88,205.73 656.00,206.00 C657.12,206.27 659.33,206.50 660.00,206.60" stroke="#888" stroke-width="1.1" stroke-dasharray="4.5 2 1 2"/>
<path d="M504.00,206.80 C504.63,206.70 506.80,206.47 507.80,206.20 C508.80,205.93 509.32,205.65 510.00,205.20 C510.68,204.75 511.23,204.28 511.90,203.50 C512.57,202.72 513.32,201.65 514.00,200.50 C514.68,199.35 515.37,198.18 516.00,196.60 C516.63,195.02 517.22,193.07 517.80,191.00 C518.38,188.93 518.97,186.70 519.50,184.20 C520.03,181.70 520.53,178.77 521.00,176.00 C521.47,173.23 521.92,170.60 522.30,167.60 C522.68,164.60 522.98,161.27 523.30,158.00 C523.62,154.73 523.90,151.33 524.20,148.00 C524.50,144.67 524.80,141.50 525.10,138.00 C525.40,134.50 525.68,130.67 526.00,127.00 C526.32,123.33 526.67,119.50 527.00,116.00 C527.33,112.50 527.65,109.08 528.00,106.00 C528.35,102.92 528.70,100.17 529.10,97.50 C529.50,94.83 529.93,92.08 530.40,90.00 C530.87,87.92 531.37,86.23 531.90,85.00 C532.43,83.77 533.05,83.07 533.60,82.60 C534.15,82.13 534.67,82.13 535.20,82.20 C535.73,82.27 536.28,82.45 536.80,83.00 C537.32,83.55 537.82,84.42 538.30,85.50 C538.78,86.58 539.18,88.75 539.70,89.50 C540.22,90.25 540.92,88.67 541.40,90.00 C541.88,91.33 542.18,94.83 542.60,97.50 C543.02,100.17 543.45,103.33 543.90,106.00 C544.35,108.67 544.80,110.92 545.30,113.50 C545.80,116.08 546.33,118.78 546.90,121.50 C547.47,124.22 548.08,127.12 548.70,129.80 C549.32,132.48 549.97,135.13 550.60,137.60 C551.23,140.07 551.87,142.47 552.50,144.60 C553.13,146.73 553.75,148.73 554.40,150.40 C555.05,152.07 555.68,153.30 556.40,154.60 C557.12,155.90 557.87,156.90 558.70,158.20 C559.53,159.50 560.48,161.05 561.40,162.40 C562.32,163.75 563.18,165.07 564.20,166.30 C565.22,167.53 566.23,168.65 567.50,169.80 C568.77,170.95 570.17,171.80 571.80,173.20 C573.43,174.60 575.47,176.83 577.30,178.20 C579.13,179.57 581.10,180.70 582.80,181.40 C584.50,182.10 585.92,182.33 587.50,182.40 C589.08,182.47 590.72,182.00 592.30,181.80 C593.88,181.60 595.43,180.83 597.00,181.20 C598.57,181.57 600.22,182.62 601.70,184.00 C603.18,185.38 604.68,188.07 605.90,189.50 C607.12,190.93 608.02,191.82 609.00,192.60 C609.98,193.38 610.80,193.82 611.80,194.20 C612.80,194.58 613.82,194.75 615.00,194.90 C616.18,195.05 617.65,195.12 618.90,195.10 C620.15,195.08 621.32,194.92 622.50,194.80 C623.68,194.68 624.82,194.53 626.00,194.40 C627.18,194.27 628.42,194.10 629.60,194.00 C630.78,193.90 631.93,193.78 633.10,193.80 C634.27,193.82 635.42,193.90 636.60,194.10 C637.78,194.30 639.17,194.68 640.20,195.00 C641.23,195.32 642.00,195.62 642.80,196.00 C643.60,196.38 644.23,196.72 645.00,197.30 C645.77,197.88 646.62,198.70 647.40,199.50 C648.18,200.30 648.93,201.38 649.70,202.10 C650.47,202.82 651.22,203.32 652.00,203.80 C652.78,204.28 653.57,204.65 654.40,205.00 C655.23,205.35 655.90,205.65 657.00,205.90 C658.10,206.15 659.33,206.33 661.00,206.50 C662.67,206.67 666.00,206.83 667.00,206.90" stroke="#222" stroke-width="1.05" stroke-dasharray="0.1 2.6" stroke-linecap="round"/>
<path d="M508.00,206.90 C508.58,206.78 510.42,206.58 511.50,206.20 C512.58,205.82 513.62,205.33 514.50,204.60 C515.38,203.87 516.12,202.97 516.80,201.80 C517.48,200.63 518.05,199.23 518.60,197.60 C519.15,195.97 519.63,194.10 520.10,192.00 C520.57,189.90 521.00,187.42 521.40,185.00 C521.80,182.58 522.17,180.17 522.50,177.50 C522.83,174.83 523.13,171.92 523.40,169.00 C523.67,166.08 523.87,163.17 524.10,160.00 C524.33,156.83 524.57,153.33 524.80,150.00 C525.03,146.67 525.25,143.67 525.50,140.00 C525.75,136.33 526.03,132.17 526.30,128.00 C526.57,123.83 526.85,119.00 527.10,115.00 C527.35,111.00 527.58,107.33 527.80,104.00 C528.02,100.67 528.18,97.83 528.40,95.00 C528.62,92.17 528.87,89.42 529.10,87.00 C529.33,84.58 529.57,82.67 529.80,80.50 C530.03,78.33 530.27,76.05 530.50,74.00 C530.73,71.95 530.93,70.03 531.20,68.20 C531.47,66.37 531.78,64.55 532.10,63.00 C532.42,61.45 532.77,60.23 533.10,58.90 C533.43,57.57 533.77,55.90 534.10,55.00 C534.43,54.10 534.75,53.50 535.10,53.50 C535.45,53.50 535.82,54.10 536.20,55.00 C536.58,55.90 537.10,57.57 537.40,58.90 C537.70,60.23 537.80,61.45 538.00,63.00 C538.20,64.55 538.37,66.20 538.60,68.20 C538.83,70.20 539.12,72.70 539.40,75.00 C539.68,77.30 540.00,79.67 540.30,82.00 C540.60,84.33 540.90,86.75 541.20,89.00 C541.50,91.25 541.78,93.17 542.10,95.50 C542.42,97.83 542.73,100.25 543.10,103.00 C543.47,105.75 543.88,109.17 544.30,112.00 C544.72,114.83 545.08,117.00 545.60,120.00 C546.12,123.00 546.77,126.87 547.40,130.00 C548.03,133.13 548.67,136.13 549.40,138.80 C550.13,141.47 551.00,143.70 551.80,146.00 C552.60,148.30 553.40,150.52 554.20,152.60 C555.00,154.68 555.80,156.67 556.60,158.50 C557.40,160.33 558.23,162.12 559.00,163.60 C559.77,165.08 560.52,166.43 561.20,167.40 C561.88,168.37 562.52,168.83 563.10,169.40 C563.68,169.97 563.92,170.05 564.70,170.80 C565.48,171.55 566.62,172.85 567.80,173.90 C568.98,174.95 570.48,175.92 571.80,177.10 C573.12,178.28 574.38,179.62 575.70,181.00 C577.02,182.38 578.52,184.30 579.70,185.40 C580.88,186.50 581.75,187.30 582.80,187.60 C583.85,187.90 584.95,187.53 586.00,187.20 C587.05,186.87 588.05,186.37 589.10,185.60 C590.15,184.83 591.38,183.33 592.30,182.60 C593.22,181.87 593.68,181.45 594.60,181.20 C595.52,180.95 596.87,180.93 597.80,181.10 C598.73,181.27 599.43,181.72 600.20,182.20 C600.97,182.68 601.65,183.25 602.40,184.00 C603.15,184.75 603.93,185.73 604.70,186.70 C605.47,187.67 606.20,188.82 607.00,189.80 C607.80,190.78 608.70,191.75 609.50,192.60 C610.30,193.45 611.02,194.22 611.80,194.90 C612.58,195.58 613.33,196.23 614.20,196.70 C615.07,197.17 616.02,197.50 617.00,197.70 C617.98,197.90 619.18,197.93 620.10,197.90 C621.02,197.87 621.70,197.70 622.50,197.50 C623.30,197.30 624.12,197.05 624.90,196.70 C625.68,196.35 626.42,195.78 627.20,195.40 C627.98,195.02 628.80,194.65 629.60,194.40 C630.40,194.15 631.22,194.00 632.00,193.90 C632.78,193.80 633.52,193.75 634.30,193.80 C635.08,193.85 635.90,194.00 636.70,194.20 C637.50,194.40 638.30,194.70 639.10,195.00 C639.90,195.30 640.72,195.62 641.50,196.00 C642.28,196.38 643.02,196.75 643.80,197.30 C644.58,197.85 645.42,198.60 646.20,199.30 C646.98,200.00 647.70,200.78 648.50,201.50 C649.30,202.22 650.20,203.02 651.00,203.60 C651.80,204.18 652.47,204.60 653.30,205.00 C654.13,205.40 654.88,205.73 656.00,206.00 C657.12,206.27 659.33,206.50 660.00,206.60" stroke="#1a1a1a" stroke-width="0.9" stroke-dasharray="5 3"/>
<path d="M510.50,207.00 C511.08,206.90 513.00,206.70 514.00,206.40 C515.00,206.10 515.82,205.83 516.50,205.20 C517.18,204.57 517.58,203.73 518.10,202.60 C518.62,201.47 519.13,200.08 519.60,198.40 C520.07,196.72 520.50,194.57 520.90,192.50 C521.30,190.43 521.65,188.30 522.00,186.00 C522.35,183.70 522.72,181.37 523.00,178.70 C523.28,176.03 523.48,173.00 523.70,170.00 C523.92,167.00 524.08,164.03 524.30,160.70 C524.52,157.37 524.77,153.45 525.00,150.00 C525.23,146.55 525.45,143.67 525.70,140.00 C525.95,136.33 526.23,132.33 526.50,128.00 C526.77,123.67 527.08,118.00 527.30,114.00 C527.52,110.00 527.65,107.17 527.80,104.00 C527.95,100.83 528.07,98.42 528.20,95.00 C528.33,91.58 528.47,86.83 528.60,83.50 C528.73,80.17 528.87,77.55 529.00,75.00 C529.13,72.45 529.23,70.70 529.40,68.20 C529.57,65.70 529.82,62.57 530.00,60.00 C530.18,57.43 530.30,55.30 530.50,52.80 C530.70,50.30 530.95,47.57 531.20,45.00 C531.45,42.43 531.70,39.82 532.00,37.40 C532.30,34.98 532.62,32.30 533.00,30.50 C533.38,28.70 533.87,26.65 534.30,26.60 C534.73,26.55 535.22,28.40 535.60,30.20 C535.98,32.00 536.30,34.93 536.60,37.40 C536.90,39.87 537.13,42.43 537.40,45.00 C537.67,47.57 537.93,50.22 538.20,52.80 C538.47,55.38 538.75,57.93 539.00,60.50 C539.25,63.07 539.45,65.62 539.70,68.20 C539.95,70.78 540.25,73.45 540.50,76.00 C540.75,78.55 540.95,81.08 541.20,83.50 C541.45,85.92 541.73,88.18 542.00,90.50 C542.27,92.82 542.43,94.48 542.80,97.40 C543.17,100.32 543.67,104.40 544.20,108.00 C544.73,111.60 545.35,115.42 546.00,119.00 C546.65,122.58 547.40,126.28 548.10,129.50 C548.80,132.72 549.52,135.63 550.20,138.30 C550.88,140.97 551.53,143.22 552.20,145.50 C552.87,147.78 553.57,149.83 554.20,152.00 C554.83,154.17 555.17,156.03 556.00,158.50 C556.83,160.97 558.15,164.37 559.20,166.80 C560.25,169.23 561.12,171.00 562.30,173.10 C563.48,175.20 564.98,177.65 566.30,179.40 C567.62,181.15 568.90,182.73 570.20,183.60 C571.50,184.47 572.65,184.40 574.10,184.60 C575.55,184.80 577.32,184.73 578.90,184.80 C580.48,184.87 582.17,185.05 583.60,185.00 C585.03,184.95 586.18,184.97 587.50,184.50 C588.82,184.03 590.32,182.72 591.50,182.20 C592.68,181.68 593.68,181.23 594.60,181.40 C595.52,181.57 596.20,182.23 597.00,183.20 C597.80,184.17 598.52,185.73 599.40,187.20 C600.28,188.67 601.45,190.62 602.30,192.00 C603.15,193.38 603.70,194.43 604.50,195.50 C605.30,196.57 606.27,197.67 607.10,198.40 C607.93,199.13 608.72,199.48 609.50,199.90 C610.28,200.32 610.97,200.60 611.80,200.90 C612.63,201.20 613.60,201.50 614.50,201.70 C615.40,201.90 616.37,202.13 617.20,202.10 C618.03,202.07 618.82,201.80 619.50,201.50 C620.18,201.20 620.68,200.88 621.30,200.30 C621.92,199.72 622.60,198.75 623.20,198.00 C623.80,197.25 624.23,196.55 624.90,195.80 C625.57,195.05 626.42,194.10 627.20,193.50 C627.98,192.90 628.80,192.55 629.60,192.20 C630.40,191.85 631.22,191.57 632.00,191.40 C632.78,191.23 633.52,191.20 634.30,191.20 C635.08,191.20 635.90,191.25 636.70,191.40 C637.50,191.55 638.30,191.75 639.10,192.10 C639.90,192.45 640.72,192.92 641.50,193.50 C642.28,194.08 643.02,194.82 643.80,195.60 C644.58,196.38 645.42,197.32 646.20,198.20 C646.98,199.08 647.82,200.13 648.50,200.90 C649.18,201.67 649.70,202.22 650.30,202.80 C650.90,203.38 651.40,203.95 652.10,204.40 C652.80,204.85 653.72,205.20 654.50,205.50 C655.28,205.80 655.88,206.02 656.80,206.20 C657.72,206.38 659.47,206.53 660.00,206.60" stroke="#1a1a1a" stroke-width="0.9"/>
</g>
<rect x="493.5" y="15.5" width="182.0" height="191.5" fill="none" stroke="#5a5a5a" stroke-width="1"/>
<path d="M499.5,207.0v-2.2M499.5,15.5v2.2M530.5,207.0v-2.2M530.5,15.5v2.2M561.5,207.0v-2.2M561.5,15.5v2.2M592.5,207.0v-2.2M592.5,15.5v2.2M623.5,207.0v-2.2M623.5,15.5v2.2M654.5,207.0v-2.2M654.5,15.5v2.2M493.5,164.5h2.2M675.5,164.5h-2.2M493.5,122.5h2.2M675.5,122.5h-2.2M493.5,80.5h2.2M675.5,80.5h-2.2M493.5,38.5h2.2M675.5,38.5h-2.2" stroke="#5a5a5a" stroke-width="1" fill="none"/>
<text transform="translate(499.35,222.50) scale(1,1.055)" font-size="11.95" text-anchor="middle">-50</text>
<text transform="translate(530.40,222.50) scale(1,1.055)" font-size="11.95" text-anchor="middle">0</text>
<text transform="translate(561.45,222.50) scale(1,1.055)" font-size="11.95" text-anchor="middle">50</text>
<text transform="translate(592.50,222.50) scale(1,1.055)" font-size="11.95" text-anchor="middle">100</text>
<text transform="translate(623.55,222.50) scale(1,1.055)" font-size="11.95" text-anchor="middle">150</text>
<text transform="translate(654.60,222.50) scale(1,1.055)" font-size="11.95" text-anchor="middle">200</text>
<text transform="translate(490.10,211.30) scale(1,1.055)" font-size="11.95" text-anchor="end">0</text>
<text transform="translate(490.10,169.30) scale(1,1.055)" font-size="11.95" text-anchor="end">0.005</text>
<text transform="translate(490.10,127.30) scale(1,1.055)" font-size="11.95" text-anchor="end">0.01</text>
<text transform="translate(490.10,85.30) scale(1,1.055)" font-size="11.95" text-anchor="end">0.015</text>
<text transform="translate(490.10,43.30) scale(1,1.055)" font-size="11.95" text-anchor="end">0.02</text>
<text transform="translate(584.50,238.60) scale(1,1.08)" font-size="13.3" text-anchor="middle">c. animal &amp; plant fats and oils</text>
<rect x="593.5" y="25.5" width="73.7" height="57.2" fill="#fff" stroke="#5a5a5a" stroke-width="1"/>
<path d="M597.3,34.5H637.7" stroke="#444" stroke-width="1.0"/>
<text transform="translate(640.90,38.20) scale(1,1.08)" font-size="10.8">2013</text>
<path d="M597.3,47.7H637.7" stroke="#444" stroke-width="1.0" stroke-dasharray="7 3.8"/>
<text transform="translate(640.90,51.40) scale(1,1.08)" font-size="10.8">2016</text>
<path d="M597.3,60.9H637.7" stroke="#999" stroke-width="1.5" stroke-dasharray="5.7 2.5 1 2.6"/>
<text transform="translate(640.90,64.60) scale(1,1.08)" font-size="10.8">2019</text>
<path d="M597.3,74.1H637.7" stroke="#777" stroke-width="1.0" stroke-dasharray="1 1.7"/>
<text transform="translate(640.90,77.80) scale(1,1.08)" font-size="10.8">2022</text>
<clipPath id="cpd"><rect x="15.0" y="281.2" width="181.5" height="190.8"/></clipPath>
<g clip-path="url(#cpd)" fill="none">
<path d="M27.30,471.80 C28.00,471.20 30.13,469.53 31.50,468.20 C32.87,466.87 34.38,465.25 35.50,463.80 C36.62,462.35 37.40,460.88 38.20,459.50 C39.00,458.12 39.63,457.12 40.30,455.50 C40.97,453.88 41.62,451.77 42.20,449.80 C42.78,447.83 43.27,445.75 43.80,443.70 C44.33,441.65 44.90,439.48 45.40,437.50 C45.90,435.52 46.40,433.72 46.80,431.80 C47.20,429.88 47.50,427.97 47.80,426.00 C48.10,424.03 48.27,422.67 48.60,420.00 C48.93,417.33 49.40,413.50 49.80,410.00 C50.20,406.50 50.62,402.57 51.00,399.00 C51.38,395.43 51.53,393.10 52.10,388.60 C52.67,384.10 53.87,375.52 54.40,372.00 C54.93,368.48 54.98,369.00 55.30,367.50 C55.62,366.00 55.93,364.75 56.30,363.00 C56.67,361.25 57.12,359.00 57.50,357.00 C57.88,355.00 58.25,352.95 58.60,351.00 C58.95,349.05 59.25,347.30 59.60,345.30 C59.95,343.30 60.35,341.05 60.70,339.00 C61.05,336.95 61.38,334.92 61.70,333.00 C62.02,331.08 62.28,329.40 62.60,327.50 C62.92,325.60 63.20,323.43 63.60,321.60 C64.00,319.77 64.50,317.98 65.00,316.50 C65.50,315.02 66.05,313.73 66.60,312.70 C67.15,311.67 67.72,310.85 68.30,310.30 C68.88,309.75 69.52,309.48 70.10,309.40 C70.68,309.32 71.52,309.73 71.80,309.80 C72.08,309.87 71.48,309.50 71.80,309.80 C72.12,310.10 73.08,310.73 73.70,311.60 C74.32,312.47 74.90,313.77 75.50,315.00 C76.10,316.23 76.70,317.60 77.30,319.00 C77.90,320.40 78.50,321.97 79.10,323.40 C79.70,324.83 80.30,326.23 80.90,327.60 C81.50,328.97 82.08,330.32 82.70,331.60 C83.32,332.88 83.95,334.13 84.60,335.30 C85.25,336.47 85.93,337.57 86.60,338.60 C87.27,339.63 87.87,340.57 88.60,341.50 C89.33,342.43 90.20,343.42 91.00,344.20 C91.80,344.98 92.58,345.57 93.40,346.20 C94.22,346.83 94.97,347.13 95.90,348.00 C96.83,348.87 97.90,350.22 99.00,351.40 C100.10,352.58 101.37,354.03 102.50,355.10 C103.63,356.17 104.60,356.78 105.80,357.80 C107.00,358.82 108.38,360.10 109.70,361.20 C111.02,362.30 112.38,363.40 113.70,364.40 C115.02,365.40 116.28,366.27 117.60,367.20 C118.92,368.13 120.43,369.00 121.60,370.00 C122.77,371.00 123.62,371.95 124.60,373.20 C125.58,374.45 126.68,376.03 127.50,377.50 C128.32,378.97 128.85,380.38 129.50,382.00 C130.15,383.62 130.67,385.20 131.40,387.20 C132.13,389.20 133.07,391.70 133.90,394.00 C134.73,396.30 135.57,398.57 136.40,401.00 C137.23,403.43 138.08,406.00 138.90,408.60 C139.72,411.20 140.48,413.87 141.30,416.60 C142.12,419.33 143.02,422.18 143.80,425.00 C144.58,427.82 145.23,430.58 146.00,433.50 C146.77,436.42 150.67,448.32 148.40,442.50 C146.13,436.68 134.67,404.92 132.40,398.60 C130.13,392.28 133.98,402.55 134.80,404.60 C135.62,406.65 136.45,408.47 137.30,410.90 C138.15,413.33 139.03,416.35 139.90,419.20 C140.77,422.05 141.65,425.03 142.50,428.00 C143.35,430.97 144.18,434.10 145.00,437.00 C145.82,439.90 146.60,442.80 147.40,445.40 C148.20,448.00 149.13,450.67 149.80,452.60 C150.47,454.53 150.85,455.60 151.40,457.00 C151.95,458.40 152.47,459.75 153.10,461.00 C153.73,462.25 154.50,463.50 155.20,464.50 C155.90,465.50 156.50,466.22 157.30,467.00 C158.10,467.78 159.05,468.57 160.00,469.20 C160.95,469.83 161.83,470.28 163.00,470.80 C164.17,471.32 166.33,472.05 167.00,472.30" stroke="#999" stroke-width="0.95" stroke-dasharray="5 3"/>
<path d="M27.30,471.80 C28.00,471.20 30.13,469.53 31.50,468.20 C32.87,466.87 34.38,465.25 35.50,463.80 C36.62,462.35 37.40,460.88 38.20,459.50 C39.00,458.12 39.63,457.12 40.30,455.50 C40.97,453.88 41.62,451.77 42.20,449.80 C42.78,447.83 43.27,445.75 43.80,443.70 C44.33,441.65 44.90,439.48 45.40,437.50 C45.90,435.52 46.40,433.72 46.80,431.80 C47.20,429.88 47.50,427.97 47.80,426.00 C48.10,424.03 48.27,422.67 48.60,420.00 C48.93,417.33 49.40,413.50 49.80,410.00 C50.20,406.50 50.17,405.33 51.00,399.00 C51.83,392.67 54.02,377.25 54.80,372.00 C55.58,366.75 55.38,369.00 55.70,367.50 C56.02,366.00 56.33,364.75 56.70,363.00 C57.07,361.25 57.52,359.00 57.90,357.00 C58.28,355.00 58.65,352.95 59.00,351.00 C59.35,349.05 59.65,347.30 60.00,345.30 C60.35,343.30 60.75,341.05 61.10,339.00 C61.45,336.95 61.78,334.92 62.10,333.00 C62.42,331.08 62.68,329.40 63.00,327.50 C63.32,325.60 63.60,323.43 64.00,321.60 C64.40,319.77 64.90,317.98 65.40,316.50 C65.90,315.02 66.45,313.73 67.00,312.70 C67.55,311.67 68.12,310.95 68.70,310.30 C69.28,309.65 69.92,308.92 70.50,308.80 C71.08,308.68 71.57,309.10 72.20,309.60 C72.83,310.10 73.62,310.85 74.30,311.80 C74.98,312.75 75.62,314.03 76.30,315.30 C76.98,316.57 77.68,317.98 78.40,319.40 C79.12,320.82 79.83,322.37 80.60,323.80 C81.37,325.23 82.18,326.73 83.00,328.00 C83.82,329.27 84.60,330.13 85.50,331.40 C86.40,332.67 87.40,334.27 88.40,335.60 C89.40,336.93 90.48,338.13 91.50,339.40 C92.52,340.67 93.52,342.02 94.50,343.20 C95.48,344.38 96.38,345.37 97.40,346.50 C98.42,347.63 99.42,348.78 100.60,350.00 C101.78,351.22 102.98,352.53 104.50,353.80 C106.02,355.07 108.02,356.32 109.70,357.60 C111.38,358.88 112.95,360.18 114.60,361.50 C116.25,362.82 118.27,364.38 119.60,365.50 C120.93,366.62 121.62,367.22 122.60,368.20 C123.58,369.18 124.57,370.10 125.50,371.40 C126.43,372.70 127.38,374.33 128.20,376.00 C129.02,377.67 129.70,379.50 130.40,381.40 C131.10,383.30 131.70,385.23 132.40,387.40 C133.10,389.57 133.83,391.93 134.60,394.40 C135.37,396.87 136.18,399.53 137.00,402.20 C137.82,404.87 138.67,407.60 139.50,410.40 C140.33,413.20 141.17,416.07 142.00,419.00 C142.83,421.93 143.68,425.00 144.50,428.00 C145.32,431.00 146.12,434.08 146.90,437.00 C147.68,439.92 148.45,442.87 149.20,445.50 C149.95,448.13 150.67,450.62 151.40,452.80 C152.13,454.98 152.87,456.93 153.60,458.60 C154.33,460.27 155.03,461.57 155.80,462.80 C156.57,464.03 157.33,465.07 158.20,466.00 C159.07,466.93 160.03,467.70 161.00,468.40 C161.97,469.10 162.83,469.63 164.00,470.20 C165.17,470.77 167.33,471.53 168.00,471.80" stroke="#555" stroke-width="1.05" stroke-dasharray="0.1 2.6" stroke-linecap="round"/>
<path d="M27.30,471.80 C28.00,471.20 30.13,469.53 31.50,468.20 C32.87,466.87 34.38,465.25 35.50,463.80 C36.62,462.35 37.40,460.88 38.20,459.50 C39.00,458.12 39.63,457.12 40.30,455.50 C40.97,453.88 41.62,451.77 42.20,449.80 C42.78,447.83 43.27,445.75 43.80,443.70 C44.33,441.65 44.90,439.48 45.40,437.50 C45.90,435.52 46.40,433.72 46.80,431.80 C47.20,429.88 47.50,427.97 47.80,426.00 C48.10,424.03 48.27,422.67 48.60,420.00 C48.93,417.33 49.40,413.50 49.80,410.00 C50.20,406.50 50.62,402.57 51.00,399.00 C51.38,395.43 51.50,393.10 52.10,388.60 C52.70,384.10 54.03,375.52 54.60,372.00 C55.17,368.48 55.18,369.00 55.50,367.50 C55.82,366.00 56.13,364.75 56.50,363.00 C56.87,361.25 57.32,359.00 57.70,357.00 C58.08,355.00 58.45,352.95 58.80,351.00 C59.15,349.05 59.45,347.30 59.80,345.30 C60.15,343.30 60.55,341.05 60.90,339.00 C61.25,336.95 61.58,334.92 61.90,333.00 C62.22,331.08 62.48,329.40 62.80,327.50 C63.12,325.60 63.40,323.43 63.80,321.60 C64.20,319.77 64.70,317.98 65.20,316.50 C65.70,315.02 66.25,313.73 66.80,312.70 C67.35,311.67 67.92,310.85 68.50,310.30 C69.08,309.75 69.75,309.48 70.30,309.40 C70.85,309.32 71.55,309.73 71.80,309.80 C72.05,309.87 71.48,309.50 71.80,309.80 C72.12,310.10 73.08,310.73 73.70,311.60 C74.32,312.47 74.90,313.77 75.50,315.00 C76.10,316.23 76.70,317.60 77.30,319.00 C77.90,320.40 78.50,321.97 79.10,323.40 C79.70,324.83 80.30,326.23 80.90,327.60 C81.50,328.97 82.08,330.32 82.70,331.60 C83.32,332.88 83.95,334.13 84.60,335.30 C85.25,336.47 85.90,337.52 86.60,338.60 C87.30,339.68 88.02,340.75 88.80,341.80 C89.58,342.85 90.40,343.97 91.30,344.90 C92.20,345.83 93.15,346.45 94.20,347.40 C95.25,348.35 96.33,349.57 97.60,350.60 C98.87,351.63 100.43,352.57 101.80,353.60 C103.17,354.63 104.48,355.82 105.80,356.80 C107.12,357.78 108.38,358.62 109.70,359.50 C111.02,360.38 112.38,361.27 113.70,362.10 C115.02,362.93 116.45,363.78 117.60,364.50 C118.75,365.22 119.62,365.72 120.60,366.40 C121.58,367.08 122.52,367.53 123.50,368.60 C124.48,369.67 125.52,371.02 126.50,372.80 C127.48,374.58 128.55,377.23 129.40,379.30 C130.25,381.37 130.90,383.18 131.60,385.20 C132.30,387.22 132.90,389.20 133.60,391.40 C134.30,393.60 135.02,395.93 135.80,398.40 C136.58,400.87 137.47,403.50 138.30,406.20 C139.13,408.90 139.97,411.80 140.80,414.60 C141.63,417.40 142.48,420.10 143.30,423.00 C144.12,425.90 144.90,428.92 145.70,432.00 C146.50,435.08 150.32,447.07 148.10,441.50 C145.88,435.93 134.62,404.75 132.40,398.60 C130.18,392.45 133.98,402.55 134.80,404.60 C135.62,406.65 136.45,408.47 137.30,410.90 C138.15,413.33 139.03,416.35 139.90,419.20 C140.77,422.05 141.65,425.03 142.50,428.00 C143.35,430.97 144.18,434.10 145.00,437.00 C145.82,439.90 146.60,442.80 147.40,445.40 C148.20,448.00 149.13,450.67 149.80,452.60 C150.47,454.53 150.85,455.60 151.40,457.00 C151.95,458.40 152.47,459.75 153.10,461.00 C153.73,462.25 154.50,463.50 155.20,464.50 C155.90,465.50 156.50,466.22 157.30,467.00 C158.10,467.78 159.05,468.57 160.00,469.20 C160.95,469.83 161.83,470.28 163.00,470.80 C164.17,471.32 166.33,472.05 167.00,472.30" stroke="#111" stroke-width="0.9" stroke-dasharray="4.5 2 1 2"/>
<path d="M27.30,471.80 C28.00,471.20 30.13,469.53 31.50,468.20 C32.87,466.87 34.38,465.25 35.50,463.80 C36.62,462.35 37.40,460.88 38.20,459.50 C39.00,458.12 39.63,457.12 40.30,455.50 C40.97,453.88 41.62,451.77 42.20,449.80 C42.78,447.83 43.27,445.75 43.80,443.70 C44.33,441.65 44.90,439.48 45.40,437.50 C45.90,435.52 46.40,433.72 46.80,431.80 C47.20,429.88 47.50,427.97 47.80,426.00 C48.10,424.03 48.27,422.67 48.60,420.00 C48.93,417.33 49.40,413.50 49.80,410.00 C50.20,406.50 50.62,402.57 51.00,399.00 C51.38,395.43 51.70,392.35 52.10,388.60 C52.50,384.85 53.00,380.43 53.40,376.50 C53.80,372.57 54.13,368.58 54.50,365.00 C54.87,361.42 55.23,358.17 55.60,355.00 C55.97,351.83 56.30,349.08 56.70,346.00 C57.10,342.92 57.55,339.50 58.00,336.50 C58.45,333.50 58.92,330.75 59.40,328.00 C59.88,325.25 60.40,322.58 60.90,320.00 C61.40,317.42 61.88,314.67 62.40,312.50 C62.92,310.33 63.47,308.55 64.00,307.00 C64.53,305.45 65.02,304.27 65.60,303.20 C66.18,302.13 66.85,301.20 67.50,300.60 C68.15,300.00 68.82,299.63 69.50,299.60 C70.18,299.57 70.90,299.83 71.60,300.40 C72.30,300.97 73.08,301.98 73.70,303.00 C74.32,304.02 74.77,305.27 75.30,306.50 C75.83,307.73 76.35,309.02 76.90,310.40 C77.45,311.78 78.03,313.30 78.60,314.80 C79.17,316.30 79.67,317.78 80.30,319.40 C80.93,321.02 81.70,322.77 82.40,324.50 C83.10,326.23 83.77,328.02 84.50,329.80 C85.23,331.58 86.03,333.40 86.80,335.20 C87.57,337.00 88.32,338.98 89.10,340.60 C89.88,342.22 90.72,343.55 91.50,344.90 C92.28,346.25 92.97,347.42 93.80,348.70 C94.63,349.98 95.60,351.25 96.50,352.60 C97.40,353.95 98.28,355.40 99.20,356.80 C100.12,358.20 100.90,359.50 102.00,361.00 C103.10,362.50 104.52,364.30 105.80,365.80 C107.08,367.30 108.38,368.65 109.70,370.00 C111.02,371.35 112.38,372.72 113.70,373.90 C115.02,375.08 116.47,376.15 117.60,377.10 C118.73,378.05 119.52,378.73 120.50,379.60 C121.48,380.47 122.57,381.32 123.50,382.30 C124.43,383.28 125.27,384.32 126.10,385.50 C126.93,386.68 127.77,388.02 128.50,389.40 C129.23,390.78 129.85,392.27 130.50,393.80 C131.15,395.33 131.68,396.80 132.40,398.60 C133.12,400.40 133.98,402.55 134.80,404.60 C135.62,406.65 136.45,408.47 137.30,410.90 C138.15,413.33 139.03,416.35 139.90,419.20 C140.77,422.05 141.65,425.03 142.50,428.00 C143.35,430.97 144.18,434.10 145.00,437.00 C145.82,439.90 146.60,442.80 147.40,445.40 C148.20,448.00 149.13,450.67 149.80,452.60 C150.47,454.53 150.85,455.60 151.40,457.00 C151.95,458.40 152.47,459.75 153.10,461.00 C153.73,462.25 154.50,463.50 155.20,464.50 C155.90,465.50 156.50,466.22 157.30,467.00 C158.10,467.78 159.05,468.57 160.00,469.20 C160.95,469.83 161.83,470.28 163.00,470.80 C164.17,471.32 166.33,472.05 167.00,472.30" stroke="#1a1a1a" stroke-width="0.9"/>
</g>
<rect x="15.0" y="281.2" width="181.5" height="190.8" fill="none" stroke="#5a5a5a" stroke-width="1"/>
<path d="M55.0,472.0v-2.2M55.0,281.2v2.2M96.5,472.0v-2.2M96.5,281.2v2.2M138.0,472.0v-2.2M138.0,281.2v2.2M179.5,472.0v-2.2M179.5,281.2v2.2M15.0,444.9h2.2M196.5,444.9h-2.2M15.0,416.4h2.2M196.5,416.4h-2.2M15.0,387.9h2.2M196.5,387.9h-2.2M15.0,359.4h2.2M196.5,359.4h-2.2M15.0,330.9h2.2M196.5,330.9h-2.2M15.0,302.4h2.2M196.5,302.4h-2.2" stroke="#5a5a5a" stroke-width="1" fill="none"/>
<text transform="translate(54.80,487.50) scale(1,1.055)" font-size="11.95" text-anchor="middle">0</text>
<text transform="translate(96.30,487.50) scale(1,1.055)" font-size="11.95" text-anchor="middle">100</text>
<text transform="translate(137.80,487.50) scale(1,1.055)" font-size="11.95" text-anchor="middle">200</text>
<text transform="translate(179.30,487.50) scale(1,1.055)" font-size="11.95" text-anchor="middle">300</text>
<text transform="translate(11.60,449.70) scale(1,1.055)" font-size="11.95" text-anchor="end">1</text>
<text transform="translate(11.60,421.20) scale(1,1.055)" font-size="11.95" text-anchor="end">2</text>
<text transform="translate(11.60,392.70) scale(1,1.055)" font-size="11.95" text-anchor="end">3</text>
<text transform="translate(11.60,364.20) scale(1,1.055)" font-size="11.95" text-anchor="end">4</text>
<text transform="translate(11.60,335.70) scale(1,1.055)" font-size="11.95" text-anchor="end">5</text>
<text transform="translate(11.60,307.20) scale(1,1.055)" font-size="11.95" text-anchor="end">6</text>
<text transform="translate(16.00,280.55) scale(1,1.08)" font-size="14">&#215;</text>
<text transform="translate(24.80,278.80) scale(1,1.08)" font-size="11.95">10</text>
<text transform="translate(37.00,272.60) scale(1,1.08)" font-size="8.5">-3</text>
<text transform="translate(105.75,503.60) scale(1,1.08)" font-size="13.3" text-anchor="middle">d. processed agricultural products</text>
<rect x="114.5" y="291.5" width="73.7" height="56.6" fill="#fff" stroke="#5a5a5a" stroke-width="1"/>
<path d="M118.3,299.5H158.7" stroke="#444" stroke-width="1.0"/>
<text transform="translate(161.90,303.20) scale(1,1.08)" font-size="10.8">2013</text>
<path d="M118.3,312.9H158.7" stroke="#999" stroke-width="1.5" stroke-dasharray="7 3.8"/>
<text transform="translate(161.90,316.60) scale(1,1.08)" font-size="10.8">2016</text>
<path d="M118.3,326.3H158.7" stroke="#333" stroke-width="1.0" stroke-dasharray="5.7 2.5 1 2.6"/>
<text transform="translate(161.90,330.00) scale(1,1.08)" font-size="10.8">2019</text>
<path d="M118.3,339.7H158.7" stroke="#aaa" stroke-width="1.0" stroke-dasharray="1 1.7"/>
<text transform="translate(161.90,343.40) scale(1,1.08)" font-size="10.8">2022</text>
<clipPath id="cpe"><rect x="254.5" y="281.2" width="182.0" height="190.8"/></clipPath>
<g clip-path="url(#cpe)" fill="none">
<path d="M272.00,471.60 C272.37,471.52 273.37,471.37 274.20,471.10 C275.03,470.83 276.05,470.55 277.00,470.00 C277.95,469.45 279.02,468.80 279.90,467.80 C280.78,466.80 281.55,465.47 282.30,464.00 C283.05,462.53 283.77,460.87 284.40,459.00 C285.03,457.13 285.55,455.05 286.10,452.80 C286.65,450.55 287.13,448.22 287.70,445.50 C288.27,442.78 288.93,439.50 289.50,436.50 C290.07,433.50 290.58,430.83 291.10,427.50 C291.62,424.17 292.12,420.25 292.60,416.50 C293.08,412.75 293.53,408.83 294.00,405.00 C294.47,401.17 294.95,397.25 295.40,393.50 C295.85,389.75 296.30,386.25 296.70,382.50 C297.10,378.75 297.43,375.08 297.80,371.00 C298.17,366.92 298.57,362.00 298.90,358.00 C299.23,354.00 299.52,350.33 299.80,347.00 C300.08,343.67 300.33,340.92 300.60,338.00 C300.87,335.08 301.13,332.50 301.40,329.50 C301.67,326.50 302.05,319.92 302.20,320.00 C302.35,320.08 302.13,329.58 302.30,330.00 C302.47,330.42 302.88,324.58 303.20,322.50 C303.52,320.42 303.83,318.85 304.20,317.50 C304.57,316.15 304.95,315.12 305.40,314.40 C305.85,313.68 306.40,313.40 306.90,313.20 C307.40,313.00 307.88,313.10 308.40,313.20 C308.92,313.30 309.47,313.40 310.00,313.80 C310.53,314.20 311.07,314.80 311.60,315.60 C312.13,316.40 312.70,317.50 313.20,318.60 C313.70,319.70 314.12,320.90 314.60,322.20 C315.08,323.50 315.60,325.00 316.10,326.40 C316.60,327.80 317.10,329.10 317.60,330.60 C318.10,332.10 318.62,333.73 319.10,335.40 C319.58,337.07 320.05,338.77 320.50,340.60 C320.95,342.43 321.37,344.40 321.80,346.40 C322.23,348.40 322.65,350.58 323.10,352.60 C323.55,354.62 324.00,356.47 324.50,358.50 C325.00,360.53 325.53,362.72 326.10,364.80 C326.67,366.88 327.25,368.97 327.90,371.00 C328.55,373.03 329.22,375.17 330.00,377.00 C330.78,378.83 331.67,380.40 332.60,382.00 C333.53,383.60 334.60,385.27 335.60,386.60 C336.60,387.93 337.60,388.93 338.60,390.00 C339.60,391.07 340.68,392.07 341.60,393.00 C342.52,393.93 343.28,394.63 344.10,395.60 C344.92,396.57 345.68,397.52 346.50,398.80 C347.32,400.08 348.28,401.93 349.00,403.30 C349.72,404.67 349.98,405.60 350.80,407.00 C351.62,408.40 352.92,410.38 353.90,411.70 C354.88,413.02 355.77,413.85 356.70,414.90 C357.63,415.95 358.65,417.08 359.50,418.00 C360.35,418.92 360.88,419.67 361.80,420.40 C362.72,421.13 363.88,421.88 365.00,422.40 C366.12,422.92 367.60,423.25 368.50,423.50 C369.40,423.75 369.78,423.70 370.40,423.90 C371.02,424.10 371.62,424.42 372.20,424.70 C372.78,424.98 373.32,425.25 373.90,425.60 C374.48,425.95 375.10,426.35 375.70,426.80 C376.30,427.25 376.95,427.77 377.50,428.30 C378.05,428.83 378.52,429.42 379.00,430.00 C379.48,430.58 379.92,431.13 380.40,431.80 C380.88,432.47 381.40,433.22 381.90,434.00 C382.40,434.78 382.93,435.83 383.40,436.50 C383.87,437.17 384.20,437.12 384.70,438.00 C385.20,438.88 385.85,440.53 386.40,441.80 C386.95,443.07 387.47,444.33 388.00,445.60 C388.53,446.87 389.07,448.17 389.60,449.40 C390.13,450.63 390.67,451.83 391.20,453.00 C391.73,454.17 392.25,455.33 392.80,456.40 C393.35,457.47 393.87,458.42 394.50,459.40 C395.13,460.38 395.88,461.40 396.60,462.30 C397.32,463.20 398.00,464.02 398.80,464.80 C399.60,465.58 400.50,466.30 401.40,467.00 C402.30,467.70 403.30,468.45 404.20,469.00 C405.10,469.55 405.90,469.95 406.80,470.30 C407.70,470.65 408.53,470.88 409.60,471.10 C410.67,471.32 412.60,471.52 413.20,471.60" stroke="#999" stroke-width="0.95" stroke-dasharray="5 3"/>
<path d="M272.00,471.60 C272.37,471.52 273.37,471.37 274.20,471.10 C275.03,470.83 276.05,470.55 277.00,470.00 C277.95,469.45 279.02,468.80 279.90,467.80 C280.78,466.80 281.55,465.47 282.30,464.00 C283.05,462.53 283.77,460.87 284.40,459.00 C285.03,457.13 285.55,455.05 286.10,452.80 C286.65,450.55 287.13,448.22 287.70,445.50 C288.27,442.78 288.93,439.50 289.50,436.50 C290.07,433.50 290.58,430.83 291.10,427.50 C291.62,424.17 292.12,420.25 292.60,416.50 C293.08,412.75 293.53,408.83 294.00,405.00 C294.47,401.17 294.95,397.25 295.40,393.50 C295.85,389.75 296.30,386.25 296.70,382.50 C297.10,378.75 297.43,375.08 297.80,371.00 C298.17,366.92 298.57,362.00 298.90,358.00 C299.23,354.00 299.52,350.33 299.80,347.00 C300.08,343.67 300.33,340.92 300.60,338.00 C300.87,335.08 301.25,330.33 301.40,329.50 C301.55,328.67 301.33,334.25 301.50,333.00 C301.67,331.75 302.07,325.33 302.40,322.00 C302.73,318.67 303.10,315.50 303.50,313.00 C303.90,310.50 304.32,308.43 304.80,307.00 C305.28,305.57 305.80,304.92 306.40,304.40 C307.00,303.88 307.77,303.87 308.40,303.90 C309.03,303.93 309.63,304.12 310.20,304.60 C310.77,305.08 311.30,305.83 311.80,306.80 C312.30,307.77 312.73,309.03 313.20,310.40 C313.67,311.77 314.13,313.37 314.60,315.00 C315.07,316.63 315.53,318.43 316.00,320.20 C316.47,321.97 316.93,323.77 317.40,325.60 C317.87,327.43 318.33,329.30 318.80,331.20 C319.27,333.10 319.73,335.03 320.20,337.00 C320.67,338.97 321.13,340.93 321.60,343.00 C322.07,345.07 322.52,347.23 323.00,349.40 C323.48,351.57 323.98,353.73 324.50,356.00 C325.02,358.27 325.53,360.67 326.10,363.00 C326.67,365.33 327.25,367.75 327.90,370.00 C328.55,372.25 329.22,374.53 330.00,376.50 C330.78,378.47 331.67,380.15 332.60,381.80 C333.53,383.45 334.60,385.07 335.60,386.40 C336.60,387.73 337.60,388.73 338.60,389.80 C339.60,390.87 340.68,391.87 341.60,392.80 C342.52,393.73 343.28,394.43 344.10,395.40 C344.92,396.37 345.68,397.33 346.50,398.60 C347.32,399.87 348.18,401.47 349.00,403.00 C349.82,404.53 350.57,406.23 351.40,407.80 C352.23,409.37 353.17,410.98 354.00,412.40 C354.83,413.82 355.52,415.00 356.40,416.30 C357.28,417.60 358.32,418.98 359.30,420.20 C360.28,421.42 361.30,422.53 362.30,423.60 C363.30,424.67 364.15,425.53 365.30,426.60 C366.45,427.67 368.08,429.20 369.20,430.00 C370.32,430.80 371.02,431.08 372.00,431.40 C372.98,431.72 374.10,431.67 375.10,431.90 C376.10,432.13 377.18,432.42 378.00,432.80 C378.82,433.18 379.37,433.60 380.00,434.20 C380.63,434.80 381.23,435.57 381.80,436.40 C382.37,437.23 382.73,438.17 383.40,439.20 C384.07,440.23 385.13,441.43 385.80,442.60 C386.47,443.77 386.87,444.98 387.40,446.20 C387.93,447.42 388.47,448.70 389.00,449.90 C389.53,451.10 390.07,452.27 390.60,453.40 C391.13,454.53 391.65,455.67 392.20,456.70 C392.75,457.73 393.27,458.63 393.90,459.60 C394.53,460.57 395.28,461.62 396.00,462.50 C396.72,463.38 397.40,464.13 398.20,464.90 C399.00,465.67 399.90,466.42 400.80,467.10 C401.70,467.78 402.70,468.47 403.60,469.00 C404.50,469.53 405.30,469.95 406.20,470.30 C407.10,470.65 407.93,470.88 409.00,471.10 C410.07,471.32 412.00,471.52 412.60,471.60" stroke="#555" stroke-width="1.05" stroke-dasharray="0.1 2.6" stroke-linecap="round"/>
<path d="M272.00,471.60 C272.37,471.52 273.37,471.37 274.20,471.10 C275.03,470.83 276.05,470.55 277.00,470.00 C277.95,469.45 279.02,468.80 279.90,467.80 C280.78,466.80 281.55,465.47 282.30,464.00 C283.05,462.53 283.77,460.87 284.40,459.00 C285.03,457.13 285.55,455.05 286.10,452.80 C286.65,450.55 287.13,448.22 287.70,445.50 C288.27,442.78 288.93,439.50 289.50,436.50 C290.07,433.50 290.58,430.83 291.10,427.50 C291.62,424.17 292.12,420.25 292.60,416.50 C293.08,412.75 293.53,408.83 294.00,405.00 C294.47,401.17 294.95,397.25 295.40,393.50 C295.85,389.75 296.30,386.25 296.70,382.50 C297.10,378.75 297.43,375.08 297.80,371.00 C298.17,366.92 298.57,362.00 298.90,358.00 C299.23,354.00 299.52,350.33 299.80,347.00 C300.08,343.67 300.33,340.92 300.60,338.00 C300.87,335.08 301.13,332.50 301.40,329.50 C301.67,326.50 302.05,319.83 302.20,320.00 C302.35,320.17 302.13,329.92 302.30,330.50 C302.47,331.08 302.88,325.50 303.20,323.50 C303.52,321.50 303.83,319.82 304.20,318.50 C304.57,317.18 304.95,316.28 305.40,315.60 C305.85,314.92 306.40,314.63 306.90,314.40 C307.40,314.17 307.88,314.13 308.40,314.20 C308.92,314.27 309.47,314.40 310.00,314.80 C310.53,315.20 311.07,315.80 311.60,316.60 C312.13,317.40 312.70,318.53 313.20,319.60 C313.70,320.67 314.12,321.73 314.60,323.00 C315.08,324.27 315.60,325.80 316.10,327.20 C316.60,328.60 317.10,329.90 317.60,331.40 C318.10,332.90 318.62,334.53 319.10,336.20 C319.58,337.87 320.05,339.60 320.50,341.40 C320.95,343.20 321.37,345.07 321.80,347.00 C322.23,348.93 322.65,351.00 323.10,353.00 C323.55,355.00 324.00,357.00 324.50,359.00 C325.00,361.00 325.53,362.97 326.10,365.00 C326.67,367.03 327.25,369.20 327.90,371.20 C328.55,373.20 329.22,375.20 330.00,377.00 C330.78,378.80 331.67,380.40 332.60,382.00 C333.53,383.60 334.60,385.27 335.60,386.60 C336.60,387.93 337.60,388.93 338.60,390.00 C339.60,391.07 340.68,392.07 341.60,393.00 C342.52,393.93 343.28,394.63 344.10,395.60 C344.92,396.57 345.72,397.47 346.50,398.80 C347.28,400.13 348.12,402.18 348.80,403.60 C349.48,405.02 349.78,405.90 350.60,407.30 C351.42,408.70 352.72,410.68 353.70,412.00 C354.68,413.32 355.57,414.15 356.50,415.20 C357.43,416.25 358.45,417.38 359.30,418.30 C360.15,419.22 360.68,419.97 361.60,420.70 C362.52,421.43 363.68,422.18 364.80,422.70 C365.92,423.22 367.40,423.55 368.30,423.80 C369.20,424.05 369.58,424.00 370.20,424.20 C370.82,424.40 371.42,424.72 372.00,425.00 C372.58,425.28 373.12,425.55 373.70,425.90 C374.28,426.25 374.90,426.65 375.50,427.10 C376.10,427.55 376.75,428.07 377.30,428.60 C377.85,429.13 378.32,429.72 378.80,430.30 C379.28,430.88 379.72,431.43 380.20,432.10 C380.68,432.77 381.20,433.52 381.70,434.30 C382.20,435.08 382.75,436.13 383.20,436.80 C383.65,437.47 383.92,437.42 384.40,438.30 C384.88,439.18 385.55,440.83 386.10,442.10 C386.65,443.37 387.17,444.63 387.70,445.90 C388.23,447.17 388.77,448.47 389.30,449.70 C389.83,450.93 390.37,452.13 390.90,453.30 C391.43,454.47 391.95,455.63 392.50,456.70 C393.05,457.77 393.57,458.72 394.20,459.70 C394.83,460.68 395.58,461.72 396.30,462.60 C397.02,463.48 397.70,464.23 398.50,465.00 C399.30,465.77 400.20,466.52 401.10,467.20 C402.00,467.88 403.00,468.57 403.90,469.10 C404.80,469.63 405.60,470.05 406.50,470.40 C407.40,470.75 408.23,470.98 409.30,471.20 C410.37,471.42 412.30,471.62 412.90,471.70" stroke="#111" stroke-width="0.9" stroke-dasharray="4.5 2 1 2"/>
<path d="M273.00,471.60 C273.50,471.45 274.97,471.08 276.00,470.70 C277.03,470.32 278.32,469.93 279.20,469.30 C280.08,468.67 280.65,467.88 281.30,466.90 C281.95,465.92 282.52,464.73 283.10,463.40 C283.68,462.07 284.27,460.43 284.80,458.90 C285.33,457.37 285.83,455.92 286.30,454.20 C286.77,452.48 287.20,450.48 287.60,448.60 C288.00,446.72 288.28,445.07 288.70,442.90 C289.12,440.73 289.63,438.17 290.10,435.60 C290.57,433.03 291.03,430.68 291.50,427.50 C291.97,424.32 292.45,420.25 292.90,416.50 C293.35,412.75 293.77,408.83 294.20,405.00 C294.63,401.17 295.07,397.25 295.50,393.50 C295.93,389.75 296.40,386.25 296.80,382.50 C297.20,378.75 297.55,375.08 297.90,371.00 C298.25,366.92 298.58,362.00 298.90,358.00 C299.22,354.00 299.52,350.33 299.80,347.00 C300.08,343.67 300.33,340.92 300.60,338.00 C300.87,335.08 301.07,332.50 301.40,329.50 C301.73,326.50 302.25,322.92 302.60,320.00 C302.95,317.08 303.15,314.67 303.50,312.00 C303.85,309.33 304.30,306.25 304.70,304.00 C305.10,301.75 305.47,300.07 305.90,298.50 C306.33,296.93 306.80,295.45 307.30,294.60 C307.80,293.75 308.37,293.43 308.90,293.40 C309.43,293.37 310.05,293.72 310.50,294.40 C310.95,295.08 311.20,296.15 311.60,297.50 C312.00,298.85 312.45,300.63 312.90,302.50 C313.35,304.37 313.85,306.62 314.30,308.70 C314.75,310.78 315.18,312.92 315.60,315.00 C316.02,317.08 316.28,318.95 316.80,321.20 C317.32,323.45 318.15,326.12 318.70,328.50 C319.25,330.88 319.63,333.17 320.10,335.50 C320.57,337.83 321.05,340.15 321.50,342.50 C321.95,344.85 322.35,347.27 322.80,349.60 C323.25,351.93 323.70,354.15 324.20,356.50 C324.70,358.85 325.23,361.37 325.80,363.70 C326.37,366.03 326.95,368.27 327.60,370.50 C328.25,372.73 328.88,375.08 329.70,377.10 C330.52,379.12 331.52,380.90 332.50,382.60 C333.48,384.30 334.58,385.97 335.60,387.30 C336.62,388.63 337.60,389.57 338.60,390.60 C339.60,391.63 340.68,392.58 341.60,393.50 C342.52,394.42 343.28,395.12 344.10,396.10 C344.92,397.08 345.68,398.08 346.50,399.40 C347.32,400.72 348.22,402.35 349.00,404.00 C349.78,405.65 350.43,407.68 351.20,409.30 C351.97,410.92 352.88,412.38 353.60,413.70 C354.32,415.02 354.78,416.08 355.50,417.20 C356.22,418.32 357.03,419.47 357.90,420.40 C358.77,421.33 359.78,422.15 360.70,422.80 C361.62,423.45 362.57,423.97 363.40,424.30 C364.23,424.63 364.93,424.73 365.70,424.80 C366.47,424.87 367.32,424.75 368.00,424.70 C368.68,424.65 369.22,424.47 369.80,424.50 C370.38,424.53 371.00,424.72 371.50,424.90 C372.00,425.08 372.28,425.22 372.80,425.60 C373.32,425.98 374.02,426.60 374.60,427.20 C375.18,427.80 375.72,428.53 376.30,429.20 C376.88,429.87 377.50,430.48 378.10,431.20 C378.70,431.92 379.35,432.73 379.90,433.50 C380.45,434.27 380.92,435.05 381.40,435.80 C381.88,436.55 382.30,437.02 382.80,438.00 C383.30,438.98 383.87,440.45 384.40,441.70 C384.93,442.95 385.47,444.23 386.00,445.50 C386.53,446.77 387.07,448.05 387.60,449.30 C388.13,450.55 388.67,451.82 389.20,453.00 C389.73,454.18 390.27,455.33 390.80,456.40 C391.33,457.47 391.78,458.42 392.40,459.40 C393.02,460.38 393.80,461.42 394.50,462.30 C395.20,463.18 395.82,463.92 396.60,464.70 C397.38,465.48 398.30,466.28 399.20,467.00 C400.10,467.72 401.10,468.47 402.00,469.00 C402.90,469.53 403.72,469.87 404.60,470.20 C405.48,470.53 406.23,470.77 407.30,471.00 C408.37,471.23 410.38,471.50 411.00,471.60" stroke="#1a1a1a" stroke-width="0.9"/>
</g>
<rect x="254.5" y="281.2" width="182.0" height="190.8" fill="none" stroke="#5a5a5a" stroke-width="1"/>
<path d="M300.0,472.0v-2.2M300.0,281.2v2.2M345.5,472.0v-2.2M345.5,281.2v2.2M391.0,472.0v-2.2M391.0,281.2v2.2M254.5,433.9h2.2M436.5,433.9h-2.2M254.5,395.8h2.2M436.5,395.8h-2.2M254.5,357.7h2.2M436.5,357.7h-2.2M254.5,319.6h2.2M436.5,319.6h-2.2" stroke="#5a5a5a" stroke-width="1" fill="none"/>
<text transform="translate(254.50,487.50) scale(1,1.055)" font-size="11.95" text-anchor="middle">-100</text>
<text transform="translate(300.00,487.50) scale(1,1.055)" font-size="11.95" text-anchor="middle">0</text>
<text transform="translate(345.50,487.50) scale(1,1.055)" font-size="11.95" text-anchor="middle">100</text>
<text transform="translate(391.00,487.50) scale(1,1.055)" font-size="11.95" text-anchor="middle">200</text>
<text transform="translate(436.50,487.50) scale(1,1.055)" font-size="11.95" text-anchor="middle">300</text>
<text transform="translate(251.10,476.80) scale(1,1.055)" font-size="11.95" text-anchor="end">0</text>
<text transform="translate(251.10,438.70) scale(1,1.055)" font-size="11.95" text-anchor="end">0.002</text>
<text transform="translate(251.10,400.60) scale(1,1.055)" font-size="11.95" text-anchor="end">0.004</text>
<text transform="translate(251.10,362.50) scale(1,1.055)" font-size="11.95" text-anchor="end">0.006</text>
<text transform="translate(251.10,324.40) scale(1,1.055)" font-size="11.95" text-anchor="end">0.008</text>
<text transform="translate(251.10,286.30) scale(1,1.055)" font-size="11.95" text-anchor="end">0.01</text>
<text transform="translate(345.50,503.60) scale(1,1.08)" font-size="13.3" text-anchor="middle">e. wood products</text>
<rect x="354.5" y="291.5" width="73.7" height="56.6" fill="#fff" stroke="#5a5a5a" stroke-width="1"/>
<path d="M358.3,299.5H398.7" stroke="#444" stroke-width="1.0"/>
<text transform="translate(401.90,303.20) scale(1,1.08)" font-size="10.8">2013</text>
<path d="M358.3,312.9H398.7" stroke="#999" stroke-width="1.5" stroke-dasharray="7 3.8"/>
<text transform="translate(401.90,316.60) scale(1,1.08)" font-size="10.8">2016</text>
<path d="M358.3,326.3H398.7" stroke="#333" stroke-width="1.0" stroke-dasharray="5.7 2.5 1 2.6"/>
<text transform="translate(401.90,330.00) scale(1,1.08)" font-size="10.8">2019</text>
<path d="M358.3,339.7H398.7" stroke="#aaa" stroke-width="1.0" stroke-dasharray="1 1.7"/>
<text transform="translate(401.90,343.40) scale(1,1.08)" font-size="10.8">2022</text>
<clipPath id="cpf"><rect x="493.5" y="281.2" width="182.0" height="190.8"/></clipPath>
<g clip-path="url(#cpf)" fill="none">
<path d="M521.60,471.75 C521.83,471.62 522.52,471.32 523.00,471.00 C523.48,470.68 524.02,470.37 524.50,469.80 C524.98,469.23 525.48,468.48 525.90,467.60 C526.32,466.72 526.67,465.65 527.00,464.50 C527.33,463.35 527.62,461.95 527.90,460.70 C528.18,459.45 528.45,458.20 528.70,457.00 C528.95,455.80 529.12,455.18 529.40,453.50 C529.68,451.82 530.10,449.23 530.40,446.90 C530.70,444.57 530.98,441.98 531.20,439.50 C531.42,437.02 531.55,434.70 531.70,432.00 C531.85,429.30 531.87,426.80 532.10,423.30 C532.33,419.80 532.77,415.07 533.10,411.00 C533.43,406.93 533.78,402.98 534.10,398.90 C534.42,394.82 534.72,390.58 535.00,386.50 C535.28,382.42 535.55,378.40 535.80,374.40 C536.05,370.40 536.28,366.57 536.50,362.50 C536.72,358.43 536.88,353.92 537.10,350.00 C537.32,346.08 537.55,342.83 537.80,339.00 C538.05,335.17 538.33,331.00 538.60,327.00 C538.87,323.00 539.00,320.00 539.40,315.00 C539.80,310.00 540.60,301.13 541.00,297.00 C541.40,292.87 541.50,291.93 541.80,290.20 C542.10,288.47 542.47,287.07 542.80,286.60 C543.13,286.13 543.47,286.58 543.80,287.40 C544.13,288.22 544.47,289.73 544.80,291.50 C545.13,293.27 545.48,295.67 545.80,298.00 C546.12,300.33 546.45,302.92 546.70,305.50 C546.95,308.08 547.02,310.58 547.30,313.50 C547.58,316.42 548.02,320.08 548.40,323.00 C548.78,325.92 549.20,328.33 549.60,331.00 C550.00,333.67 550.42,336.28 550.80,339.00 C551.18,341.72 551.52,344.55 551.90,347.30 C552.28,350.05 552.72,352.88 553.10,355.50 C553.48,358.12 553.82,360.50 554.20,363.00 C554.58,365.50 554.95,367.92 555.40,370.50 C555.85,373.08 556.40,375.83 556.90,378.50 C557.40,381.17 557.88,383.88 558.40,386.50 C558.92,389.12 559.47,391.78 560.00,394.20 C560.53,396.62 561.10,398.90 561.60,401.00 C562.10,403.10 562.53,405.02 563.00,406.80 C563.47,408.58 563.93,410.10 564.40,411.70 C564.87,413.30 565.32,414.98 565.80,416.40 C566.28,417.82 566.77,419.00 567.30,420.20 C567.83,421.40 568.40,422.60 569.00,423.60 C569.60,424.60 570.17,425.38 570.90,426.20 C571.63,427.02 572.55,427.77 573.40,428.50 C574.25,429.23 575.20,429.82 576.00,430.60 C576.80,431.38 577.47,432.22 578.20,433.20 C578.93,434.18 579.67,435.37 580.40,436.50 C581.13,437.63 581.87,438.92 582.60,440.00 C583.33,441.08 583.95,441.97 584.80,443.00 C585.65,444.03 586.73,445.22 587.70,446.20 C588.67,447.18 589.63,448.13 590.60,448.90 C591.57,449.67 592.52,450.33 593.50,450.80 C594.48,451.27 595.65,451.57 596.50,451.70 C597.35,451.83 598.25,451.80 598.60,451.60 C598.95,451.40 598.23,450.93 598.60,450.50 C598.97,450.07 600.07,449.48 600.80,449.00 C601.53,448.52 602.27,447.97 603.00,447.60 C603.73,447.23 604.45,446.80 605.20,446.80 C605.95,446.80 606.77,447.13 607.50,447.60 C608.23,448.07 608.98,448.90 609.60,449.60 C610.22,450.30 610.72,451.03 611.20,451.80 C611.68,452.57 611.55,452.75 612.50,454.20 C613.45,455.65 615.80,459.00 616.90,460.50 C618.00,462.00 618.37,462.38 619.10,463.20 C619.83,464.02 620.45,464.78 621.30,465.40 C622.15,466.02 623.23,466.48 624.20,466.90 C625.17,467.32 626.13,467.55 627.10,467.90 C628.07,468.25 629.03,468.65 630.00,469.00 C630.97,469.35 631.93,469.72 632.90,470.00 C633.87,470.28 634.82,470.50 635.80,470.70 C636.78,470.90 637.27,471.03 638.80,471.20 C640.33,471.37 643.97,471.62 645.00,471.70" stroke="#999" stroke-width="0.95" stroke-dasharray="5 3"/>
<path d="M521.60,471.75 C521.83,471.62 522.52,471.32 523.00,471.00 C523.48,470.68 524.02,470.37 524.50,469.80 C524.98,469.23 525.48,468.48 525.90,467.60 C526.32,466.72 526.67,465.65 527.00,464.50 C527.33,463.35 527.62,461.95 527.90,460.70 C528.18,459.45 528.45,458.20 528.70,457.00 C528.95,455.80 529.12,455.18 529.40,453.50 C529.68,451.82 530.10,449.23 530.40,446.90 C530.70,444.57 530.98,441.98 531.20,439.50 C531.42,437.02 531.55,434.70 531.70,432.00 C531.85,429.30 531.87,426.80 532.10,423.30 C532.33,419.80 532.77,415.07 533.10,411.00 C533.43,406.93 533.78,402.98 534.10,398.90 C534.42,394.82 534.72,390.58 535.00,386.50 C535.28,382.42 535.55,378.40 535.80,374.40 C536.05,370.40 536.28,366.57 536.50,362.50 C536.72,358.43 536.88,353.92 537.10,350.00 C537.32,346.08 537.55,342.83 537.80,339.00 C538.05,335.17 538.30,331.17 538.60,327.00 C538.90,322.83 539.30,318.17 539.60,314.00 C539.90,309.83 540.13,305.83 540.40,302.00 C540.67,298.17 540.93,294.08 541.20,291.00 C541.47,287.92 541.73,285.20 542.00,283.50 C542.27,281.80 542.53,280.97 542.80,280.80 C543.07,280.63 543.32,281.22 543.60,282.50 C543.88,283.78 544.18,286.08 544.50,288.50 C544.82,290.92 545.15,294.08 545.50,297.00 C545.85,299.92 546.23,303.00 546.60,306.00 C546.97,309.00 547.32,312.00 547.70,315.00 C548.08,318.00 548.50,321.08 548.90,324.00 C549.30,326.92 549.70,329.75 550.10,332.50 C550.50,335.25 550.90,337.83 551.30,340.50 C551.70,343.17 552.10,345.83 552.50,348.50 C552.90,351.17 553.30,353.92 553.70,356.50 C554.10,359.08 554.48,361.50 554.90,364.00 C555.32,366.50 555.75,369.00 556.20,371.50 C556.65,374.00 557.12,376.50 557.60,379.00 C558.08,381.50 558.58,384.00 559.10,386.50 C559.62,389.00 560.17,391.58 560.70,394.00 C561.23,396.42 561.77,398.80 562.30,401.00 C562.83,403.20 563.37,405.20 563.90,407.20 C564.43,409.20 564.95,411.20 565.50,413.00 C566.05,414.80 566.62,416.43 567.20,418.00 C567.78,419.57 568.37,421.10 569.00,422.40 C569.63,423.70 570.25,424.80 571.00,425.80 C571.75,426.80 572.67,427.60 573.50,428.40 C574.33,429.20 575.15,429.73 576.00,430.60 C576.85,431.47 577.73,432.57 578.60,433.60 C579.47,434.63 580.22,435.73 581.20,436.80 C582.18,437.87 583.42,439.03 584.50,440.00 C585.58,440.97 586.62,441.80 587.70,442.60 C588.78,443.40 589.95,444.20 591.00,444.80 C592.05,445.40 593.08,445.85 594.00,446.20 C594.92,446.55 595.67,446.67 596.50,446.90 C597.33,447.13 598.17,447.28 599.00,447.60 C599.83,447.92 600.70,448.35 601.50,448.80 C602.30,449.25 603.05,449.77 603.80,450.30 C604.55,450.83 605.27,451.38 606.00,452.00 C606.73,452.62 607.37,453.18 608.20,454.00 C609.03,454.82 610.12,455.93 611.00,456.90 C611.88,457.87 612.67,458.87 613.50,459.80 C614.33,460.73 615.20,461.73 616.00,462.50 C616.80,463.27 617.47,463.85 618.30,464.40 C619.13,464.95 620.02,465.38 621.00,465.80 C621.98,466.22 623.18,466.55 624.20,466.90 C625.22,467.25 626.13,467.55 627.10,467.90 C628.07,468.25 629.03,468.65 630.00,469.00 C630.97,469.35 631.93,469.72 632.90,470.00 C633.87,470.28 634.82,470.50 635.80,470.70 C636.78,470.90 637.27,471.03 638.80,471.20 C640.33,471.37 643.97,471.62 645.00,471.70" stroke="#555" stroke-width="1.05" stroke-dasharray="0.1 2.6" stroke-linecap="round"/>
<path d="M521.60,471.75 C521.83,471.62 522.52,471.32 523.00,471.00 C523.48,470.68 524.02,470.37 524.50,469.80 C524.98,469.23 525.48,468.48 525.90,467.60 C526.32,466.72 526.67,465.65 527.00,464.50 C527.33,463.35 527.62,461.95 527.90,460.70 C528.18,459.45 528.45,458.20 528.70,457.00 C528.95,455.80 529.12,455.18 529.40,453.50 C529.68,451.82 530.10,449.23 530.40,446.90 C530.70,444.57 530.98,441.98 531.20,439.50 C531.42,437.02 531.55,434.70 531.70,432.00 C531.85,429.30 531.87,426.80 532.10,423.30 C532.33,419.80 532.77,415.07 533.10,411.00 C533.43,406.93 533.78,402.98 534.10,398.90 C534.42,394.82 534.72,390.58 535.00,386.50 C535.28,382.42 535.55,378.40 535.80,374.40 C536.05,370.40 536.28,366.57 536.50,362.50 C536.72,358.43 536.88,353.92 537.10,350.00 C537.32,346.08 537.55,342.83 537.80,339.00 C538.05,335.17 538.33,331.00 538.60,327.00 C538.87,323.00 538.98,319.92 539.40,315.00 C539.82,310.08 540.68,301.43 541.10,297.50 C541.52,293.57 541.60,292.98 541.90,291.40 C542.20,289.82 542.57,288.43 542.90,288.00 C543.23,287.57 543.57,288.03 543.90,288.80 C544.23,289.57 544.57,290.90 544.90,292.60 C545.23,294.30 545.58,296.73 545.90,299.00 C546.22,301.27 546.57,303.78 546.80,306.20 C547.03,308.62 547.03,310.70 547.30,313.50 C547.57,316.30 548.02,320.08 548.40,323.00 C548.78,325.92 549.20,328.33 549.60,331.00 C550.00,333.67 550.42,336.28 550.80,339.00 C551.18,341.72 551.52,344.55 551.90,347.30 C552.28,350.05 552.72,352.88 553.10,355.50 C553.48,358.12 553.82,360.50 554.20,363.00 C554.58,365.50 554.95,367.92 555.40,370.50 C555.85,373.08 556.40,375.83 556.90,378.50 C557.40,381.17 557.88,383.88 558.40,386.50 C558.92,389.12 559.47,391.78 560.00,394.20 C560.53,396.62 561.10,398.90 561.60,401.00 C562.10,403.10 562.53,405.02 563.00,406.80 C563.47,408.58 563.93,410.10 564.40,411.70 C564.87,413.30 565.32,414.98 565.80,416.40 C566.28,417.82 566.77,419.00 567.30,420.20 C567.83,421.40 568.40,422.60 569.00,423.60 C569.60,424.60 570.17,425.38 570.90,426.20 C571.63,427.02 572.55,427.77 573.40,428.50 C574.25,429.23 575.20,429.82 576.00,430.60 C576.80,431.38 577.47,432.22 578.20,433.20 C578.93,434.18 579.67,435.37 580.40,436.50 C581.13,437.63 581.87,438.92 582.60,440.00 C583.33,441.08 583.95,441.97 584.80,443.00 C585.65,444.03 586.73,445.22 587.70,446.20 C588.67,447.18 589.63,448.13 590.60,448.90 C591.57,449.67 592.52,450.33 593.50,450.80 C594.48,451.27 595.65,451.57 596.50,451.70 C597.35,451.83 598.25,451.75 598.60,451.60 C598.95,451.45 598.23,451.17 598.60,450.80 C598.97,450.43 600.07,449.90 600.80,449.40 C601.53,448.90 602.27,448.27 603.00,447.80 C603.73,447.33 604.45,446.70 605.20,446.60 C605.95,446.50 606.77,446.77 607.50,447.20 C608.23,447.63 608.98,448.47 609.60,449.20 C610.22,449.93 610.72,450.77 611.20,451.60 C611.68,452.43 611.55,452.72 612.50,454.20 C613.45,455.68 615.80,459.00 616.90,460.50 C618.00,462.00 618.37,462.38 619.10,463.20 C619.83,464.02 620.45,464.78 621.30,465.40 C622.15,466.02 623.23,466.48 624.20,466.90 C625.17,467.32 626.13,467.55 627.10,467.90 C628.07,468.25 629.03,468.65 630.00,469.00 C630.97,469.35 631.93,469.72 632.90,470.00 C633.87,470.28 634.82,470.50 635.80,470.70 C636.78,470.90 637.27,471.03 638.80,471.20 C640.33,471.37 643.97,471.62 645.00,471.70" stroke="#111" stroke-width="0.9" stroke-dasharray="4.5 2 1 2"/>
<path d="M521.60,471.75 C521.83,471.62 522.52,471.32 523.00,471.00 C523.48,470.68 524.02,470.37 524.50,469.80 C524.98,469.23 525.48,468.48 525.90,467.60 C526.32,466.72 526.67,465.65 527.00,464.50 C527.33,463.35 527.62,461.95 527.90,460.70 C528.18,459.45 528.45,458.20 528.70,457.00 C528.95,455.80 529.12,455.18 529.40,453.50 C529.68,451.82 530.10,449.23 530.40,446.90 C530.70,444.57 530.98,441.98 531.20,439.50 C531.42,437.02 531.55,434.70 531.70,432.00 C531.85,429.30 531.87,426.80 532.10,423.30 C532.33,419.80 532.77,415.07 533.10,411.00 C533.43,406.93 533.78,402.98 534.10,398.90 C534.42,394.82 534.72,390.58 535.00,386.50 C535.28,382.42 535.55,378.40 535.80,374.40 C536.05,370.40 536.28,366.57 536.50,362.50 C536.72,358.43 536.88,353.92 537.10,350.00 C537.32,346.08 537.55,342.83 537.80,339.00 C538.05,335.17 538.33,331.00 538.60,327.00 C538.87,323.00 539.12,318.83 539.40,315.00 C539.68,311.17 539.98,307.25 540.30,304.00 C540.62,300.75 540.97,297.57 541.30,295.50 C541.63,293.43 541.95,292.43 542.30,291.60 C542.65,290.77 543.05,290.40 543.40,290.50 C543.75,290.60 544.07,291.12 544.40,292.20 C544.73,293.28 545.08,294.87 545.40,297.00 C545.72,299.13 545.98,302.25 546.30,305.00 C546.62,307.75 546.95,310.50 547.30,313.50 C547.65,316.50 548.02,320.08 548.40,323.00 C548.78,325.92 549.20,328.33 549.60,331.00 C550.00,333.67 550.42,336.28 550.80,339.00 C551.18,341.72 551.52,344.55 551.90,347.30 C552.28,350.05 552.72,352.88 553.10,355.50 C553.48,358.12 553.82,360.50 554.20,363.00 C554.58,365.50 554.95,367.92 555.40,370.50 C555.85,373.08 556.40,375.83 556.90,378.50 C557.40,381.17 557.88,383.88 558.40,386.50 C558.92,389.12 559.47,391.78 560.00,394.20 C560.53,396.62 561.10,398.90 561.60,401.00 C562.10,403.10 562.53,405.02 563.00,406.80 C563.47,408.58 563.93,410.10 564.40,411.70 C564.87,413.30 565.32,414.98 565.80,416.40 C566.28,417.82 566.77,419.00 567.30,420.20 C567.83,421.40 568.40,422.60 569.00,423.60 C569.60,424.60 570.17,425.38 570.90,426.20 C571.63,427.02 572.55,427.77 573.40,428.50 C574.25,429.23 575.20,429.82 576.00,430.60 C576.80,431.38 577.47,432.22 578.20,433.20 C578.93,434.18 579.67,435.37 580.40,436.50 C581.13,437.63 581.87,438.92 582.60,440.00 C583.33,441.08 583.95,441.97 584.80,443.00 C585.65,444.03 586.73,445.22 587.70,446.20 C588.67,447.18 589.63,448.13 590.60,448.90 C591.57,449.67 592.52,450.33 593.50,450.80 C594.48,451.27 595.65,451.57 596.50,451.70 C597.35,451.83 597.88,451.72 598.60,451.60 C599.32,451.48 600.07,451.27 600.80,451.00 C601.53,450.73 602.27,450.23 603.00,450.00 C603.73,449.77 604.45,449.60 605.20,449.60 C605.95,449.60 606.77,449.77 607.50,450.00 C608.23,450.23 608.98,450.57 609.60,451.00 C610.22,451.43 610.72,452.00 611.20,452.60 C611.68,453.20 611.92,453.77 612.50,454.60 C613.08,455.43 613.97,456.62 614.70,457.60 C615.43,458.58 616.17,459.57 616.90,460.50 C617.63,461.43 618.37,462.38 619.10,463.20 C619.83,464.02 620.45,464.78 621.30,465.40 C622.15,466.02 623.23,466.48 624.20,466.90 C625.17,467.32 626.13,467.55 627.10,467.90 C628.07,468.25 629.03,468.65 630.00,469.00 C630.97,469.35 631.93,469.72 632.90,470.00 C633.87,470.28 634.82,470.50 635.80,470.70 C636.78,470.90 637.27,471.03 638.80,471.20 C640.33,471.37 643.97,471.62 645.00,471.70" stroke="#1a1a1a" stroke-width="0.9"/>
</g>
<rect x="493.5" y="281.2" width="182.0" height="190.8" fill="none" stroke="#5a5a5a" stroke-width="1"/>
<path d="M539.5,472.0v-2.2M539.5,281.2v2.2M585.0,472.0v-2.2M585.0,281.2v2.2M630.5,472.0v-2.2M630.5,281.2v2.2M493.5,409.7h2.2M675.5,409.7h-2.2M493.5,347.4h2.2M675.5,347.4h-2.2M493.5,285.1h2.2M675.5,285.1h-2.2" stroke="#5a5a5a" stroke-width="1" fill="none"/>
<text transform="translate(493.80,487.50) scale(1,1.055)" font-size="11.95" text-anchor="middle">-100</text>
<text transform="translate(539.30,487.50) scale(1,1.055)" font-size="11.95" text-anchor="middle">0</text>
<text transform="translate(584.80,487.50) scale(1,1.055)" font-size="11.95" text-anchor="middle">100</text>
<text transform="translate(630.30,487.50) scale(1,1.055)" font-size="11.95" text-anchor="middle">200</text>
<text transform="translate(675.80,487.50) scale(1,1.055)" font-size="11.95" text-anchor="middle">300</text>
<text transform="translate(490.10,476.80) scale(1,1.055)" font-size="11.95" text-anchor="end">0</text>
<text transform="translate(490.10,414.50) scale(1,1.055)" font-size="11.95" text-anchor="end">0.005</text>
<text transform="translate(490.10,352.20) scale(1,1.055)" font-size="11.95" text-anchor="end">0.01</text>
<text transform="translate(490.10,289.90) scale(1,1.055)" font-size="11.95" text-anchor="end">0.015</text>
<text transform="translate(584.50,503.60) scale(1,1.08)" font-size="13.3" text-anchor="middle">f. textile materials</text>
<rect x="593.5" y="291.5" width="73.7" height="56.6" fill="#fff" stroke="#5a5a5a" stroke-width="1"/>
<path d="M597.3,299.5H637.7" stroke="#444" stroke-width="1.0"/>
<text transform="translate(640.90,303.20) scale(1,1.08)" font-size="10.8">2013</text>
<path d="M597.3,312.9H637.7" stroke="#999" stroke-width="1.5" stroke-dasharray="7 3.8"/>
<text transform="translate(640.90,316.60) scale(1,1.08)" font-size="10.8">2016</text>
<path d="M597.3,326.3H637.7" stroke="#333" stroke-width="1.0" stroke-dasharray="5.7 2.5 1 2.6"/>
<text transform="translate(640.90,330.00) scale(1,1.08)" font-size="10.8">2019</text>
<path d="M597.3,339.7H637.7" stroke="#aaa" stroke-width="1.0" stroke-dasharray="1 1.7"/>
<text transform="translate(640.90,343.40) scale(1,1.08)" font-size="10.8">2022</text>
</svg></body></html>
